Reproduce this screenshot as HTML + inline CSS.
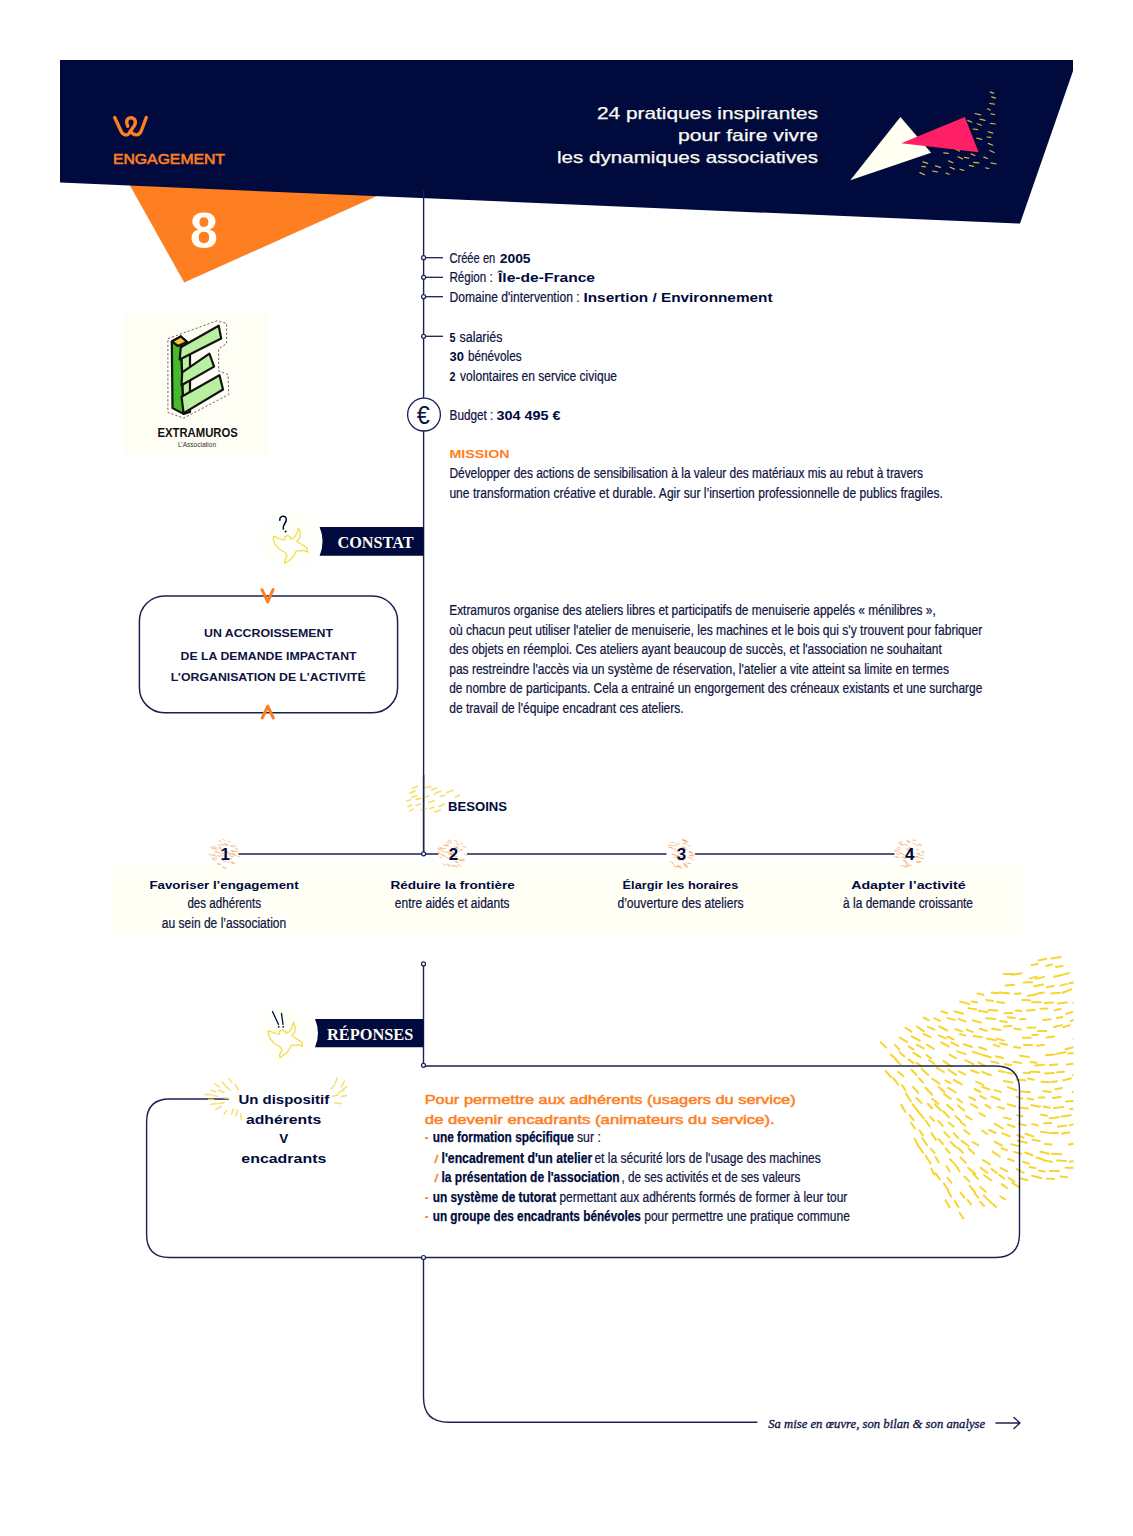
<!DOCTYPE html>
<html><head><meta charset="utf-8"><title>Extramuros</title>
<style>html,body{margin:0;padding:0;background:#fff;width:1133px;height:1536px;overflow:hidden}svg{display:block}</style>
</head><body>
<svg width="1133" height="1536" viewBox="0 0 1133 1536">
<polygon points="126.9,180 390.3,190 184.2,282.5" fill="#fe7e22"/>
<polygon points="60,60 1073,60 1073,71 1020,223.6 60,182.6" fill="#000a3c"/>
<g fill="none" stroke="#fe7e22" stroke-width="3.4" stroke-linecap="round" stroke-linejoin="round"><path d="M114.7,117.5 L121.5,132 Q123.3,135.2 126.3,134.9 Q128.6,134.6 130.4,131.2 L134.6,125.2 Q136.3,121.5 134.3,119.2 Q131.8,116.8 128.7,118.3 Q126,119.9 126.9,123.6 L127.8,126.3"/><path d="M130.4,131.2 Q132.8,135 136.3,134.9 Q139.3,134.8 141,131.5 L146.3,117.5"/></g>
<text x="113.0" y="164.0" font-family="Liberation Sans" font-size="14" font-weight="normal" font-style="normal" fill="#fe7e22" text-anchor="start" textLength="112.0" lengthAdjust="spacingAndGlyphs" stroke="#fe7e22" stroke-width="0.6">ENGAGEMENT</text>
<text x="204.0" y="248.0" font-family="Liberation Sans" font-size="50" font-weight="bold" font-style="normal" fill="#fffdf5" text-anchor="middle">8</text>
<text x="818.0" y="118.5" font-family="Liberation Sans" font-size="16.5" font-weight="normal" font-style="normal" fill="#fbfaf0" text-anchor="end" textLength="221.0" lengthAdjust="spacingAndGlyphs" stroke="#fbfaf0" stroke-width="0.25">24 pratiques inspirantes</text>
<text x="818.0" y="140.7" font-family="Liberation Sans" font-size="16.5" font-weight="normal" font-style="normal" fill="#fbfaf0" text-anchor="end" textLength="140.0" lengthAdjust="spacingAndGlyphs" stroke="#fbfaf0" stroke-width="0.25">pour faire vivre</text>
<text x="818.0" y="163.0" font-family="Liberation Sans" font-size="16.5" font-weight="normal" font-style="normal" fill="#fbfaf0" text-anchor="end" textLength="261.0" lengthAdjust="spacingAndGlyphs" stroke="#fbfaf0" stroke-width="0.25">les dynamiques associatives</text>
<g><line x1="990.3" y1="92.2" x2="993.7" y2="93.2" stroke="#f4d24a" stroke-width="1.2" stroke-linecap="round" opacity="0.85"/><line x1="991.7" y1="96.9" x2="995.5" y2="98.1" stroke="#f4d24a" stroke-width="1.2" stroke-linecap="round" opacity="0.85"/><line x1="989.7" y1="103.5" x2="994.3" y2="104.1" stroke="#f4d24a" stroke-width="1.2" stroke-linecap="round" opacity="0.85"/><line x1="987.5" y1="108.8" x2="990.3" y2="110.0" stroke="#f4d24a" stroke-width="1.2" stroke-linecap="round" opacity="0.85"/><line x1="991.1" y1="113.9" x2="994.7" y2="114.5" stroke="#f4d24a" stroke-width="1.2" stroke-linecap="round" opacity="0.85"/><line x1="975.1" y1="113.5" x2="980.5" y2="114.9" stroke="#f4d24a" stroke-width="1.2" stroke-linecap="round" opacity="0.85"/><line x1="980.0" y1="119.1" x2="985.0" y2="120.3" stroke="#f4d24a" stroke-width="1.2" stroke-linecap="round" opacity="0.85"/><line x1="990.6" y1="123.4" x2="995.2" y2="124.0" stroke="#f4d24a" stroke-width="1.2" stroke-linecap="round" opacity="0.85"/><line x1="967.7" y1="120.4" x2="971.9" y2="122.2" stroke="#f4d24a" stroke-width="1.2" stroke-linecap="round" opacity="0.85"/><line x1="977.3" y1="123.8" x2="981.3" y2="125.2" stroke="#f4d24a" stroke-width="1.2" stroke-linecap="round" opacity="0.85"/><line x1="973.1" y1="129.0" x2="977.7" y2="129.6" stroke="#f4d24a" stroke-width="1.2" stroke-linecap="round" opacity="0.85"/><line x1="988.2" y1="131.7" x2="992.8" y2="133.1" stroke="#f4d24a" stroke-width="1.2" stroke-linecap="round" opacity="0.85"/><line x1="987.0" y1="137.0" x2="990.8" y2="137.4" stroke="#f4d24a" stroke-width="1.2" stroke-linecap="round" opacity="0.85"/><line x1="976.8" y1="138.2" x2="981.8" y2="139.4" stroke="#f4d24a" stroke-width="1.2" stroke-linecap="round" opacity="0.85"/><line x1="988.3" y1="143.4" x2="992.7" y2="145.2" stroke="#f4d24a" stroke-width="1.2" stroke-linecap="round" opacity="0.85"/><line x1="989.8" y1="150.5" x2="994.2" y2="152.5" stroke="#f4d24a" stroke-width="1.2" stroke-linecap="round" opacity="0.85"/><line x1="983.8" y1="157.1" x2="987.6" y2="158.5" stroke="#f4d24a" stroke-width="1.2" stroke-linecap="round" opacity="0.85"/><line x1="971.1" y1="153.9" x2="974.9" y2="155.5" stroke="#f4d24a" stroke-width="1.2" stroke-linecap="round" opacity="0.85"/><line x1="973.6" y1="162.3" x2="978.8" y2="162.9" stroke="#f4d24a" stroke-width="1.2" stroke-linecap="round" opacity="0.85"/><line x1="985.7" y1="167.9" x2="988.9" y2="168.5" stroke="#f4d24a" stroke-width="1.2" stroke-linecap="round" opacity="0.85"/><line x1="991.0" y1="162.8" x2="996.2" y2="164.0" stroke="#f4d24a" stroke-width="1.2" stroke-linecap="round" opacity="0.85"/><line x1="964.4" y1="157.4" x2="968.8" y2="158.2" stroke="#f4d24a" stroke-width="1.2" stroke-linecap="round" opacity="0.85"/><line x1="969.3" y1="165.3" x2="973.5" y2="166.3" stroke="#f4d24a" stroke-width="1.2" stroke-linecap="round" opacity="0.85"/><line x1="960.0" y1="169.2" x2="963.8" y2="170.4" stroke="#f4d24a" stroke-width="1.2" stroke-linecap="round" opacity="0.85"/><line x1="948.6" y1="160.9" x2="952.8" y2="162.7" stroke="#f4d24a" stroke-width="1.2" stroke-linecap="round" opacity="0.85"/><line x1="950.1" y1="167.3" x2="954.5" y2="169.1" stroke="#f4d24a" stroke-width="1.2" stroke-linecap="round" opacity="0.85"/><line x1="958.0" y1="156.7" x2="962.6" y2="158.9" stroke="#f4d24a" stroke-width="1.2" stroke-linecap="round" opacity="0.85"/><line x1="943.7" y1="152.8" x2="948.3" y2="153.4" stroke="#f4d24a" stroke-width="1.2" stroke-linecap="round" opacity="0.85"/><line x1="954.8" y1="148.8" x2="959.4" y2="151.0" stroke="#f4d24a" stroke-width="1.2" stroke-linecap="round" opacity="0.85"/><line x1="935.5" y1="165.9" x2="940.5" y2="167.3" stroke="#f4d24a" stroke-width="1.2" stroke-linecap="round" opacity="0.85"/><line x1="932.5" y1="171.0" x2="937.3" y2="171.8" stroke="#f4d24a" stroke-width="1.2" stroke-linecap="round" opacity="0.85"/><line x1="922.9" y1="161.9" x2="927.7" y2="163.3" stroke="#f4d24a" stroke-width="1.2" stroke-linecap="round" opacity="0.85"/><line x1="921.9" y1="166.4" x2="925.5" y2="166.8" stroke="#f4d24a" stroke-width="1.2" stroke-linecap="round" opacity="0.85"/><line x1="919.9" y1="172.6" x2="924.5" y2="174.8" stroke="#f4d24a" stroke-width="1.2" stroke-linecap="round" opacity="0.85"/><line x1="946.1" y1="173.1" x2="949.1" y2="174.3" stroke="#f4d24a" stroke-width="1.2" stroke-linecap="round" opacity="0.85"/></g>
<polygon points="900.4,116.9 850.3,180.2 931.1,152.8" fill="#fffff2"/>
<polygon points="964.8,116.9 901.2,143.3 978.6,152.3" fill="#ff1f66"/>
<line x1="423.6" y1="190" x2="423.6" y2="853.8" stroke="#1b2052" stroke-width="1.4"/>
<line x1="423.6" y1="257.7" x2="443" y2="257.7" stroke="#1b2052" stroke-width="1.3"/>
<circle cx="423.6" cy="257.7" r="2.0" fill="#fff" stroke="#1b2052" stroke-width="1.2"/>
<line x1="423.6" y1="277.3" x2="443" y2="277.3" stroke="#1b2052" stroke-width="1.3"/>
<circle cx="423.6" cy="277.3" r="2.0" fill="#fff" stroke="#1b2052" stroke-width="1.2"/>
<line x1="423.6" y1="296.7" x2="443" y2="296.7" stroke="#1b2052" stroke-width="1.3"/>
<circle cx="423.6" cy="296.7" r="2.0" fill="#fff" stroke="#1b2052" stroke-width="1.2"/>
<line x1="423.6" y1="336.3" x2="443" y2="336.3" stroke="#1b2052" stroke-width="1.3"/>
<circle cx="423.6" cy="336.3" r="2.0" fill="#fff" stroke="#1b2052" stroke-width="1.2"/>
<circle cx="424" cy="414.6" r="16.4" fill="#fff" stroke="#1b2052" stroke-width="1.3"/>
<text x="423.2" y="424.3" font-family="Liberation Sans" font-size="26" font-weight="normal" font-style="normal" fill="#0e1342" text-anchor="middle" textLength="13" lengthAdjust="spacingAndGlyphs">&#8364;</text>
<text x="449.4" y="263.0" font-family="Liberation Sans" font-size="14" font-weight="normal" font-style="normal" fill="#0e1342" text-anchor="start" textLength="45.9" lengthAdjust="spacingAndGlyphs" stroke="#0e1342" stroke-width="0.22">Créée en</text>
<text x="499.7" y="263.0" font-family="Liberation Sans" font-size="12" font-weight="bold" font-style="normal" fill="#000a3c" text-anchor="start" textLength="30.9" lengthAdjust="spacingAndGlyphs">2005</text>
<text x="449.4" y="282.4" font-family="Liberation Sans" font-size="14" font-weight="normal" font-style="normal" fill="#0e1342" text-anchor="start" textLength="43.3" lengthAdjust="spacingAndGlyphs" stroke="#0e1342" stroke-width="0.22">Région :</text>
<text x="498.0" y="282.4" font-family="Liberation Sans" font-size="12" font-weight="bold" font-style="normal" fill="#000a3c" text-anchor="start" textLength="97.0" lengthAdjust="spacingAndGlyphs">Île-de-France</text>
<text x="449.6" y="301.8" font-family="Liberation Sans" font-size="14" font-weight="normal" font-style="normal" fill="#0e1342" text-anchor="start" textLength="130.0" lengthAdjust="spacingAndGlyphs" stroke="#0e1342" stroke-width="0.22">Domaine d'intervention :</text>
<text x="583.5" y="301.8" font-family="Liberation Sans" font-size="12" font-weight="bold" font-style="normal" fill="#000a3c" text-anchor="start" textLength="189.0" lengthAdjust="spacingAndGlyphs">Insertion / Environnement</text>
<text x="449.6" y="341.6" font-family="Liberation Sans" font-size="12" font-weight="bold" font-style="normal" fill="#000a3c" text-anchor="start" textLength="6.0" lengthAdjust="spacingAndGlyphs">5</text>
<text x="459.5" y="341.6" font-family="Liberation Sans" font-size="14" font-weight="normal" font-style="normal" fill="#0e1342" text-anchor="start" textLength="42.9" lengthAdjust="spacingAndGlyphs" stroke="#0e1342" stroke-width="0.22">salariés</text>
<text x="449.6" y="361.0" font-family="Liberation Sans" font-size="12" font-weight="bold" font-style="normal" fill="#000a3c" text-anchor="start" textLength="14.4" lengthAdjust="spacingAndGlyphs">30</text>
<text x="467.9" y="361.0" font-family="Liberation Sans" font-size="14" font-weight="normal" font-style="normal" fill="#0e1342" text-anchor="start" textLength="53.7" lengthAdjust="spacingAndGlyphs" stroke="#0e1342" stroke-width="0.22">bénévoles</text>
<text x="449.6" y="381.2" font-family="Liberation Sans" font-size="12" font-weight="bold" font-style="normal" fill="#000a3c" text-anchor="start" textLength="6.0" lengthAdjust="spacingAndGlyphs">2</text>
<text x="460.1" y="381.2" font-family="Liberation Sans" font-size="14" font-weight="normal" font-style="normal" fill="#0e1342" text-anchor="start" textLength="156.9" lengthAdjust="spacingAndGlyphs" stroke="#0e1342" stroke-width="0.22">volontaires en service civique</text>
<text x="449.6" y="420.0" font-family="Liberation Sans" font-size="14" font-weight="normal" font-style="normal" fill="#0e1342" text-anchor="start" textLength="43.8" lengthAdjust="spacingAndGlyphs" stroke="#0e1342" stroke-width="0.22">Budget :</text>
<text x="496.4" y="420.0" font-family="Liberation Sans" font-size="12" font-weight="bold" font-style="normal" fill="#000a3c" text-anchor="start" textLength="64.2" lengthAdjust="spacingAndGlyphs">304 495 €</text>
<text x="449.4" y="458.2" font-family="Liberation Sans" font-size="11.5" font-weight="bold" font-style="normal" fill="#fe7e22" text-anchor="start" textLength="60.3" lengthAdjust="spacingAndGlyphs">MISSION</text>
<text x="449.4" y="478.0" font-family="Liberation Sans" font-size="14" font-weight="normal" font-style="normal" fill="#0e1342" text-anchor="start" textLength="473.6" lengthAdjust="spacingAndGlyphs" stroke="#0e1342" stroke-width="0.22">Développer des actions de sensibilisation à la valeur des matériaux mis au rebut à travers</text>
<text x="449.4" y="497.7" font-family="Liberation Sans" font-size="14" font-weight="normal" font-style="normal" fill="#0e1342" text-anchor="start" textLength="493.4" lengthAdjust="spacingAndGlyphs" stroke="#0e1342" stroke-width="0.22">une transformation créative et durable. Agir sur l’insertion professionnelle de publics fragiles.</text>
<rect x="125" y="312" width="143" height="142.6" fill="#fffef4"/>
<polygon points="167.9,338.6 217.3,320.7 226.6,323.6 226.6,343.7 218.7,348.7 218.7,370.9 228,374.5 228.8,394.5 183.6,418.2 167.9,412.4" fill="none" stroke="#555" stroke-width="0.9" stroke-dasharray="2.2,2"/>
<g stroke="#111" stroke-width="2.2" stroke-linejoin="round"><polygon points="171.8,341.5 180.8,336.5 183.6,413.9 172.5,408.1" fill="#44bb2a"/><polygon points="180.8,336.5 187,341.9 190,347 190,412 183.6,413.9" fill="#b8f0a0"/><polygon points="171.8,341.5 180.8,336.5 186.9,341.9 178,346" fill="#f7c731"/><polygon points="180.8,347.2 218.7,325.7 221.2,338.6 179.7,359.4" fill="#b8f0a0"/><polygon points="182.2,372.3 209.4,353.7 214.1,366.6 181.5,385.2" fill="#b8f0a0"/><polygon points="181.5,396.7 219.5,375.2 223,389.5 183.6,413.1" fill="#b8f0a0"/></g>
<text x="157.5" y="437.0" font-family="Liberation Sans" font-size="12.5" font-weight="bold" font-style="normal" fill="#111" text-anchor="start" textLength="80.3" lengthAdjust="spacingAndGlyphs">EXTRAMUROS</text>
<text x="197.0" y="446.5" font-family="Liberation Sans" font-size="7" font-weight="normal" font-style="normal" fill="#333" text-anchor="middle" textLength="38.0" lengthAdjust="spacingAndGlyphs">L’Association</text>
<circle cx="289" cy="541" r="30" fill="#fffffa"/>
<path d="M273.4,536.2 L279.0,538.6 L284.5,540.2 L285.0,536.8 L287.7,535.5 L290.3,536.8 L290.8,539.4 L295.0,536.8 L297.4,532.0 L298.5,527.8 L300.4,533.0 L299.8,537.8 L296.7,541.5 L303.0,545.3 L307.3,548.4 L307.5,552.1 L304.0,550.5 L296.1,551.1 L295.0,553.7 L292.4,558.0 L285.0,563.3 L284.5,561.1 L287.1,555.8 L285.5,552.7 L279.2,549.0 L275.0,544.2 L273.4,539.4Z" fill="#fff" stroke="#f2de48" stroke-width="1.3" stroke-linejoin="round"/>
<path d="M279.8,520.2 C279.6,515.6 286.2,514.6 286.3,519.6 C286.4,523.2 282.2,524.6 283.4,529" fill="none" stroke="#000a3c" stroke-width="1.6" stroke-linecap="round"/>
<circle cx="285.6" cy="531.6" r="1" fill="#000a3c"/>
<path d="M319.6,527 L423.6,527 L423.6,555.7 L319.6,555.7 Q325.6,541.35 319.6,527 Z" fill="#000a3c"/>
<text x="337.5" y="548.0" font-family="Liberation Serif" font-size="16.5" font-weight="bold" font-style="normal" fill="#fffdf2" text-anchor="start" textLength="76.0" lengthAdjust="spacingAndGlyphs">CONSTAT</text>
<rect x="139.4" y="595.9" width="258.2" height="116.8" rx="25" ry="25" fill="#fff" stroke="#1b2052" stroke-width="1.5"/>
<path d="M262,589.7 L267.7,601.9 L273.1,589.5" fill="none" stroke="#fe7e22" stroke-width="3" stroke-linecap="round" stroke-linejoin="round"/>
<path d="M262.2,718 L267.8,706.2 L273.3,718" fill="none" stroke="#fe7e22" stroke-width="3" stroke-linecap="round" stroke-linejoin="round"/>
<text x="268.5" y="637.3" font-family="Liberation Sans" font-size="11.5" font-weight="bold" font-style="normal" fill="#0e1342" text-anchor="middle" textLength="129.0" lengthAdjust="spacingAndGlyphs">UN ACCROISSEMENT</text>
<text x="268.6" y="659.5" font-family="Liberation Sans" font-size="11.5" font-weight="bold" font-style="normal" fill="#0e1342" text-anchor="middle" textLength="176.0" lengthAdjust="spacingAndGlyphs">DE LA DEMANDE IMPACTANT</text>
<text x="268.3" y="681.0" font-family="Liberation Sans" font-size="11.5" font-weight="bold" font-style="normal" fill="#0e1342" text-anchor="middle" textLength="195.0" lengthAdjust="spacingAndGlyphs">L’ORGANISATION DE L’ACTIVITÉ</text>
<text x="449.2" y="615.1" font-family="Liberation Sans" font-size="14" font-weight="normal" font-style="normal" fill="#0e1342" text-anchor="start" textLength="486.6" lengthAdjust="spacingAndGlyphs" stroke="#0e1342" stroke-width="0.22">Extramuros organise des ateliers libres et participatifs de menuiserie appelés « ménilibres »,</text>
<text x="449.2" y="634.7" font-family="Liberation Sans" font-size="14" font-weight="normal" font-style="normal" fill="#0e1342" text-anchor="start" textLength="533.1" lengthAdjust="spacingAndGlyphs" stroke="#0e1342" stroke-width="0.22">où chacun peut utiliser l'atelier de menuiserie, les machines et le bois qui s'y trouvent pour fabriquer</text>
<text x="449.2" y="654.2" font-family="Liberation Sans" font-size="14" font-weight="normal" font-style="normal" fill="#0e1342" text-anchor="start" textLength="492.5" lengthAdjust="spacingAndGlyphs" stroke="#0e1342" stroke-width="0.22">des objets en réemploi. Ces ateliers ayant beaucoup de succès, et l'association ne souhaitant</text>
<text x="449.2" y="673.7" font-family="Liberation Sans" font-size="14" font-weight="normal" font-style="normal" fill="#0e1342" text-anchor="start" textLength="499.8" lengthAdjust="spacingAndGlyphs" stroke="#0e1342" stroke-width="0.22">pas restreindre l'accès via un système de réservation, l'atelier a vite atteint sa limite en termes</text>
<text x="449.2" y="693.2" font-family="Liberation Sans" font-size="14" font-weight="normal" font-style="normal" fill="#0e1342" text-anchor="start" textLength="533.1" lengthAdjust="spacingAndGlyphs" stroke="#0e1342" stroke-width="0.22">de nombre de participants. Cela a entrainé un engorgement des créneaux existants et une surcharge</text>
<text x="449.2" y="712.8" font-family="Liberation Sans" font-size="14" font-weight="normal" font-style="normal" fill="#0e1342" text-anchor="start" textLength="234.5" lengthAdjust="spacingAndGlyphs" stroke="#0e1342" stroke-width="0.22">de travail de l'équipe encadrant ces ateliers.</text>
<g><line x1="412.8" y1="788.2" x2="417.4" y2="786.2" stroke="#f6dc5a" stroke-width="1.6" stroke-linecap="round" opacity="0.9"/><line x1="409.8" y1="793.2" x2="415.2" y2="790.8" stroke="#f6dc5a" stroke-width="1.6" stroke-linecap="round" opacity="0.9"/><line x1="411.4" y1="797.6" x2="416.6" y2="795.8" stroke="#f6dc5a" stroke-width="1.6" stroke-linecap="round" opacity="0.9"/><line x1="406.8" y1="801.0" x2="410.8" y2="799.8" stroke="#f6dc5a" stroke-width="1.6" stroke-linecap="round" opacity="0.9"/><line x1="407.8" y1="806.4" x2="411.8" y2="805.0" stroke="#f6dc5a" stroke-width="1.6" stroke-linecap="round" opacity="0.9"/><line x1="409.5" y1="810.8" x2="413.3" y2="809.2" stroke="#f6dc5a" stroke-width="1.6" stroke-linecap="round" opacity="0.9"/><line x1="416.2" y1="799.4" x2="421.4" y2="798.2" stroke="#f6dc5a" stroke-width="1.6" stroke-linecap="round" opacity="0.9"/><line x1="416.3" y1="805.5" x2="420.3" y2="803.9" stroke="#f6dc5a" stroke-width="1.6" stroke-linecap="round" opacity="0.9"/><line x1="424.9" y1="787.8" x2="430.7" y2="786.6" stroke="#f6dc5a" stroke-width="1.6" stroke-linecap="round" opacity="0.9"/><line x1="431.5" y1="789.7" x2="436.9" y2="787.9" stroke="#f6dc5a" stroke-width="1.6" stroke-linecap="round" opacity="0.9"/><line x1="434.2" y1="793.9" x2="440.6" y2="791.1" stroke="#f6dc5a" stroke-width="1.6" stroke-linecap="round" opacity="0.9"/><line x1="446.9" y1="792.6" x2="453.1" y2="790.2" stroke="#f6dc5a" stroke-width="1.6" stroke-linecap="round" opacity="0.9"/><line x1="455.5" y1="797.1" x2="459.5" y2="795.3" stroke="#f6dc5a" stroke-width="1.6" stroke-linecap="round" opacity="0.9"/><line x1="440.3" y1="796.2" x2="445.1" y2="795.2" stroke="#f6dc5a" stroke-width="1.6" stroke-linecap="round" opacity="0.9"/><line x1="424.6" y1="797.3" x2="429.0" y2="796.1" stroke="#f6dc5a" stroke-width="1.6" stroke-linecap="round" opacity="0.9"/><line x1="428.7" y1="802.5" x2="434.3" y2="800.5" stroke="#f6dc5a" stroke-width="1.6" stroke-linecap="round" opacity="0.9"/><line x1="439.0" y1="806.4" x2="444.2" y2="804.0" stroke="#f6dc5a" stroke-width="1.6" stroke-linecap="round" opacity="0.9"/><line x1="430.1" y1="808.6" x2="433.9" y2="807.0" stroke="#f6dc5a" stroke-width="1.6" stroke-linecap="round" opacity="0.9"/><line x1="434.5" y1="812.0" x2="440.3" y2="810.0" stroke="#f6dc5a" stroke-width="1.6" stroke-linecap="round" opacity="0.9"/><line x1="421.2" y1="810.1" x2="426.0" y2="808.7" stroke="#f6dc5a" stroke-width="1.6" stroke-linecap="round" opacity="0.9"/></g>
<line x1="423.6" y1="775" x2="423.6" y2="853.8" stroke="#1b2052" stroke-width="1.4"/>
<text x="448.0" y="810.5" font-family="Liberation Sans" font-size="12" font-weight="bold" font-style="normal" fill="#000a3c" text-anchor="start" textLength="59.0" lengthAdjust="spacingAndGlyphs">BESOINS</text>
<rect x="111.8" y="865.8" width="910.7" height="65.9" fill="#fffff6"/>
<line x1="238.5" y1="854" x2="438.5" y2="854" stroke="#1b2052" stroke-width="1.4"/>
<line x1="467" y1="854" x2="666.5" y2="854" stroke="#1b2052" stroke-width="1.4"/>
<line x1="695" y1="854" x2="894.5" y2="854" stroke="#1b2052" stroke-width="1.4"/>
<circle cx="423.6" cy="853.8" r="2.0" fill="#fff" stroke="#1b2052" stroke-width="1.2"/>
<g><line x1="230.7" y1="846.0" x2="233.4" y2="846.8" stroke="#f0a060" stroke-width="1.0" stroke-linecap="round" opacity="0.6"/><line x1="227.7" y1="861.8" x2="229.9" y2="862.0" stroke="#f0a060" stroke-width="1.0" stroke-linecap="round" opacity="0.6"/><line x1="232.5" y1="851.4" x2="235.7" y2="851.7" stroke="#f0a060" stroke-width="1.0" stroke-linecap="round" opacity="0.6"/><line x1="221.8" y1="859.4" x2="223.9" y2="860.5" stroke="#f0a060" stroke-width="1.0" stroke-linecap="round" opacity="0.6"/><line x1="208.9" y1="854.3" x2="212.3" y2="855.1" stroke="#f0a060" stroke-width="1.0" stroke-linecap="round" opacity="0.6"/><line x1="215.2" y1="851.1" x2="217.2" y2="851.4" stroke="#f0a060" stroke-width="1.0" stroke-linecap="round" opacity="0.6"/><line x1="221.4" y1="853.2" x2="223.8" y2="853.6" stroke="#f0a060" stroke-width="1.0" stroke-linecap="round" opacity="0.6"/><line x1="215.0" y1="852.2" x2="217.5" y2="852.4" stroke="#f0a060" stroke-width="1.0" stroke-linecap="round" opacity="0.6"/><line x1="232.7" y1="854.9" x2="235.7" y2="855.4" stroke="#f0a060" stroke-width="1.0" stroke-linecap="round" opacity="0.6"/><line x1="212.0" y1="848.0" x2="214.9" y2="849.3" stroke="#f0a060" stroke-width="1.0" stroke-linecap="round" opacity="0.6"/><line x1="235.5" y1="850.6" x2="238.6" y2="851.9" stroke="#f0a060" stroke-width="1.0" stroke-linecap="round" opacity="0.6"/><line x1="217.2" y1="855.3" x2="220.2" y2="856.8" stroke="#f0a060" stroke-width="1.0" stroke-linecap="round" opacity="0.6"/><line x1="223.5" y1="855.9" x2="225.6" y2="856.3" stroke="#f0a060" stroke-width="1.0" stroke-linecap="round" opacity="0.6"/><line x1="231.9" y1="850.6" x2="234.1" y2="851.4" stroke="#f0a060" stroke-width="1.0" stroke-linecap="round" opacity="0.6"/><line x1="229.0" y1="858.2" x2="231.5" y2="858.9" stroke="#f0a060" stroke-width="1.0" stroke-linecap="round" opacity="0.6"/><line x1="223.3" y1="861.2" x2="226.0" y2="861.9" stroke="#f0a060" stroke-width="1.0" stroke-linecap="round" opacity="0.6"/><line x1="223.1" y1="839.5" x2="225.1" y2="840.3" stroke="#f0a060" stroke-width="1.0" stroke-linecap="round" opacity="0.6"/><line x1="237.1" y1="856.0" x2="239.7" y2="856.4" stroke="#f0a060" stroke-width="1.0" stroke-linecap="round" opacity="0.6"/><line x1="222.9" y1="867.0" x2="226.0" y2="868.0" stroke="#f0a060" stroke-width="1.0" stroke-linecap="round" opacity="0.6"/><line x1="233.6" y1="845.1" x2="236.1" y2="846.4" stroke="#f0a060" stroke-width="1.0" stroke-linecap="round" opacity="0.6"/><line x1="225.5" y1="851.9" x2="227.8" y2="852.7" stroke="#f0a060" stroke-width="1.0" stroke-linecap="round" opacity="0.6"/><line x1="231.1" y1="862.1" x2="234.2" y2="863.5" stroke="#f0a060" stroke-width="1.0" stroke-linecap="round" opacity="0.6"/><line x1="232.0" y1="853.7" x2="234.8" y2="854.4" stroke="#f0a060" stroke-width="1.0" stroke-linecap="round" opacity="0.6"/><line x1="225.1" y1="844.4" x2="227.8" y2="845.2" stroke="#f0a060" stroke-width="1.0" stroke-linecap="round" opacity="0.6"/><line x1="218.9" y1="848.5" x2="221.6" y2="849.5" stroke="#f0a060" stroke-width="1.0" stroke-linecap="round" opacity="0.6"/><line x1="226.7" y1="852.1" x2="228.7" y2="852.5" stroke="#f0a060" stroke-width="1.0" stroke-linecap="round" opacity="0.6"/><line x1="213.5" y1="855.2" x2="216.6" y2="856.7" stroke="#f0a060" stroke-width="1.0" stroke-linecap="round" opacity="0.6"/><line x1="231.9" y1="862.1" x2="234.1" y2="863.2" stroke="#f0a060" stroke-width="1.0" stroke-linecap="round" opacity="0.6"/><line x1="228.4" y1="841.3" x2="230.4" y2="841.5" stroke="#f0a060" stroke-width="1.0" stroke-linecap="round" opacity="0.6"/><line x1="230.8" y1="845.9" x2="232.8" y2="846.6" stroke="#f0a060" stroke-width="1.0" stroke-linecap="round" opacity="0.6"/><line x1="218.8" y1="840.7" x2="221.0" y2="841.4" stroke="#f0a060" stroke-width="1.0" stroke-linecap="round" opacity="0.6"/><line x1="213.3" y1="846.5" x2="216.3" y2="847.4" stroke="#f0a060" stroke-width="1.0" stroke-linecap="round" opacity="0.6"/><line x1="218.3" y1="852.5" x2="220.2" y2="853.0" stroke="#f0a060" stroke-width="1.0" stroke-linecap="round" opacity="0.6"/><line x1="221.1" y1="844.0" x2="223.1" y2="845.0" stroke="#f0a060" stroke-width="1.0" stroke-linecap="round" opacity="0.6"/><line x1="223.4" y1="844.4" x2="226.0" y2="845.7" stroke="#f0a060" stroke-width="1.0" stroke-linecap="round" opacity="0.6"/><line x1="213.1" y1="859.4" x2="215.2" y2="860.3" stroke="#f0a060" stroke-width="1.0" stroke-linecap="round" opacity="0.6"/><line x1="228.5" y1="854.2" x2="230.6" y2="855.4" stroke="#f0a060" stroke-width="1.0" stroke-linecap="round" opacity="0.6"/><line x1="231.9" y1="853.6" x2="234.1" y2="854.4" stroke="#f0a060" stroke-width="1.0" stroke-linecap="round" opacity="0.6"/><line x1="220.2" y1="855.3" x2="222.5" y2="856.1" stroke="#f0a060" stroke-width="1.0" stroke-linecap="round" opacity="0.6"/><line x1="210.0" y1="846.9" x2="213.2" y2="848.5" stroke="#f0a060" stroke-width="1.0" stroke-linecap="round" opacity="0.6"/><line x1="217.7" y1="863.3" x2="219.9" y2="864.5" stroke="#f0a060" stroke-width="1.0" stroke-linecap="round" opacity="0.6"/><line x1="230.3" y1="851.0" x2="232.7" y2="851.2" stroke="#f0a060" stroke-width="1.0" stroke-linecap="round" opacity="0.6"/><line x1="225.0" y1="843.1" x2="227.9" y2="844.8" stroke="#f0a060" stroke-width="1.0" stroke-linecap="round" opacity="0.6"/><line x1="229.1" y1="853.4" x2="231.6" y2="854.1" stroke="#f0a060" stroke-width="1.0" stroke-linecap="round" opacity="0.6"/><line x1="214.5" y1="858.3" x2="217.2" y2="858.8" stroke="#f0a060" stroke-width="1.0" stroke-linecap="round" opacity="0.6"/><line x1="211.7" y1="857.9" x2="214.1" y2="858.7" stroke="#f0a060" stroke-width="1.0" stroke-linecap="round" opacity="0.6"/><line x1="217.6" y1="864.1" x2="221.0" y2="864.4" stroke="#f0a060" stroke-width="1.0" stroke-linecap="round" opacity="0.6"/><line x1="214.1" y1="847.8" x2="217.4" y2="849.2" stroke="#f0a060" stroke-width="1.0" stroke-linecap="round" opacity="0.6"/><line x1="218.3" y1="844.5" x2="221.1" y2="845.9" stroke="#f0a060" stroke-width="1.0" stroke-linecap="round" opacity="0.6"/><line x1="235.4" y1="848.3" x2="238.5" y2="849.6" stroke="#f0a060" stroke-width="1.0" stroke-linecap="round" opacity="0.6"/><line x1="222.9" y1="867.1" x2="225.0" y2="868.0" stroke="#f0a060" stroke-width="1.0" stroke-linecap="round" opacity="0.6"/><line x1="230.3" y1="856.0" x2="233.5" y2="856.8" stroke="#f0a060" stroke-width="1.0" stroke-linecap="round" opacity="0.6"/><line x1="218.2" y1="846.9" x2="221.4" y2="848.0" stroke="#f0a060" stroke-width="1.0" stroke-linecap="round" opacity="0.6"/><line x1="212.7" y1="854.9" x2="214.9" y2="855.1" stroke="#f0a060" stroke-width="1.0" stroke-linecap="round" opacity="0.6"/><line x1="231.6" y1="862.6" x2="233.9" y2="863.5" stroke="#f0a060" stroke-width="1.0" stroke-linecap="round" opacity="0.6"/></g>
<text x="225.2" y="859.7" font-family="Liberation Sans" font-size="17" font-weight="bold" font-style="normal" fill="#000a3c" text-anchor="middle">1</text>
<g><line x1="460.8" y1="860.0" x2="463.8" y2="860.7" stroke="#f0a060" stroke-width="1.0" stroke-linecap="round" opacity="0.6"/><line x1="454.2" y1="856.4" x2="457.1" y2="856.8" stroke="#f0a060" stroke-width="1.0" stroke-linecap="round" opacity="0.6"/><line x1="449.2" y1="849.6" x2="452.0" y2="851.2" stroke="#f0a060" stroke-width="1.0" stroke-linecap="round" opacity="0.6"/><line x1="464.3" y1="854.5" x2="467.0" y2="855.1" stroke="#f0a060" stroke-width="1.0" stroke-linecap="round" opacity="0.6"/><line x1="450.4" y1="847.6" x2="452.7" y2="848.8" stroke="#f0a060" stroke-width="1.0" stroke-linecap="round" opacity="0.6"/><line x1="452.2" y1="855.1" x2="454.5" y2="855.4" stroke="#f0a060" stroke-width="1.0" stroke-linecap="round" opacity="0.6"/><line x1="446.3" y1="842.3" x2="448.7" y2="843.7" stroke="#f0a060" stroke-width="1.0" stroke-linecap="round" opacity="0.6"/><line x1="456.1" y1="843.6" x2="459.2" y2="845.0" stroke="#f0a060" stroke-width="1.0" stroke-linecap="round" opacity="0.6"/><line x1="457.9" y1="864.6" x2="460.9" y2="866.0" stroke="#f0a060" stroke-width="1.0" stroke-linecap="round" opacity="0.6"/><line x1="458.7" y1="859.3" x2="461.3" y2="860.2" stroke="#f0a060" stroke-width="1.0" stroke-linecap="round" opacity="0.6"/><line x1="451.0" y1="865.2" x2="453.6" y2="866.4" stroke="#f0a060" stroke-width="1.0" stroke-linecap="round" opacity="0.6"/><line x1="446.7" y1="864.1" x2="450.0" y2="865.1" stroke="#f0a060" stroke-width="1.0" stroke-linecap="round" opacity="0.6"/><line x1="453.1" y1="865.2" x2="456.1" y2="866.2" stroke="#f0a060" stroke-width="1.0" stroke-linecap="round" opacity="0.6"/><line x1="443.0" y1="848.2" x2="446.1" y2="848.7" stroke="#f0a060" stroke-width="1.0" stroke-linecap="round" opacity="0.6"/><line x1="462.7" y1="846.4" x2="466.1" y2="847.2" stroke="#f0a060" stroke-width="1.0" stroke-linecap="round" opacity="0.6"/><line x1="451.3" y1="853.5" x2="454.2" y2="854.5" stroke="#f0a060" stroke-width="1.0" stroke-linecap="round" opacity="0.6"/><line x1="445.9" y1="844.4" x2="448.4" y2="845.7" stroke="#f0a060" stroke-width="1.0" stroke-linecap="round" opacity="0.6"/><line x1="454.7" y1="840.5" x2="457.7" y2="841.8" stroke="#f0a060" stroke-width="1.0" stroke-linecap="round" opacity="0.6"/><line x1="456.0" y1="846.4" x2="458.1" y2="847.5" stroke="#f0a060" stroke-width="1.0" stroke-linecap="round" opacity="0.6"/><line x1="439.5" y1="853.8" x2="442.8" y2="854.5" stroke="#f0a060" stroke-width="1.0" stroke-linecap="round" opacity="0.6"/><line x1="443.0" y1="864.0" x2="445.4" y2="865.1" stroke="#f0a060" stroke-width="1.0" stroke-linecap="round" opacity="0.6"/><line x1="438.0" y1="849.1" x2="440.1" y2="849.9" stroke="#f0a060" stroke-width="1.0" stroke-linecap="round" opacity="0.6"/><line x1="460.6" y1="843.1" x2="462.7" y2="844.0" stroke="#f0a060" stroke-width="1.0" stroke-linecap="round" opacity="0.6"/><line x1="447.5" y1="840.0" x2="451.1" y2="840.5" stroke="#f0a060" stroke-width="1.0" stroke-linecap="round" opacity="0.6"/><line x1="437.8" y1="848.4" x2="440.5" y2="849.6" stroke="#f0a060" stroke-width="1.0" stroke-linecap="round" opacity="0.6"/><line x1="440.4" y1="848.5" x2="442.4" y2="849.1" stroke="#f0a060" stroke-width="1.0" stroke-linecap="round" opacity="0.6"/><line x1="458.7" y1="859.8" x2="461.9" y2="861.2" stroke="#f0a060" stroke-width="1.0" stroke-linecap="round" opacity="0.6"/><line x1="461.8" y1="859.2" x2="464.5" y2="859.7" stroke="#f0a060" stroke-width="1.0" stroke-linecap="round" opacity="0.6"/><line x1="456.2" y1="847.9" x2="458.3" y2="848.5" stroke="#f0a060" stroke-width="1.0" stroke-linecap="round" opacity="0.6"/><line x1="453.7" y1="850.2" x2="456.5" y2="850.6" stroke="#f0a060" stroke-width="1.0" stroke-linecap="round" opacity="0.6"/><line x1="454.7" y1="850.8" x2="456.6" y2="851.5" stroke="#f0a060" stroke-width="1.0" stroke-linecap="round" opacity="0.6"/><line x1="439.7" y1="856.7" x2="442.1" y2="858.1" stroke="#f0a060" stroke-width="1.0" stroke-linecap="round" opacity="0.6"/><line x1="443.7" y1="851.5" x2="446.0" y2="852.3" stroke="#f0a060" stroke-width="1.0" stroke-linecap="round" opacity="0.6"/><line x1="454.7" y1="861.9" x2="457.7" y2="862.5" stroke="#f0a060" stroke-width="1.0" stroke-linecap="round" opacity="0.6"/><line x1="449.4" y1="854.2" x2="451.4" y2="854.4" stroke="#f0a060" stroke-width="1.0" stroke-linecap="round" opacity="0.6"/><line x1="448.4" y1="841.9" x2="451.5" y2="842.5" stroke="#f0a060" stroke-width="1.0" stroke-linecap="round" opacity="0.6"/><line x1="443.5" y1="844.9" x2="446.2" y2="845.7" stroke="#f0a060" stroke-width="1.0" stroke-linecap="round" opacity="0.6"/><line x1="446.0" y1="857.1" x2="448.1" y2="858.2" stroke="#f0a060" stroke-width="1.0" stroke-linecap="round" opacity="0.6"/><line x1="449.2" y1="853.7" x2="452.1" y2="854.0" stroke="#f0a060" stroke-width="1.0" stroke-linecap="round" opacity="0.6"/><line x1="449.1" y1="854.1" x2="451.4" y2="854.4" stroke="#f0a060" stroke-width="1.0" stroke-linecap="round" opacity="0.6"/><line x1="460.1" y1="849.0" x2="462.6" y2="850.3" stroke="#f0a060" stroke-width="1.0" stroke-linecap="round" opacity="0.6"/><line x1="454.1" y1="847.0" x2="457.5" y2="847.8" stroke="#f0a060" stroke-width="1.0" stroke-linecap="round" opacity="0.6"/><line x1="439.5" y1="847.3" x2="442.6" y2="848.5" stroke="#f0a060" stroke-width="1.0" stroke-linecap="round" opacity="0.6"/><line x1="437.3" y1="851.7" x2="439.8" y2="852.5" stroke="#f0a060" stroke-width="1.0" stroke-linecap="round" opacity="0.6"/><line x1="443.1" y1="855.9" x2="445.2" y2="856.3" stroke="#f0a060" stroke-width="1.0" stroke-linecap="round" opacity="0.6"/><line x1="447.9" y1="865.7" x2="449.9" y2="866.6" stroke="#f0a060" stroke-width="1.0" stroke-linecap="round" opacity="0.6"/><line x1="442.4" y1="855.2" x2="444.9" y2="855.9" stroke="#f0a060" stroke-width="1.0" stroke-linecap="round" opacity="0.6"/><line x1="458.9" y1="850.3" x2="461.0" y2="850.6" stroke="#f0a060" stroke-width="1.0" stroke-linecap="round" opacity="0.6"/><line x1="455.1" y1="866.7" x2="458.2" y2="867.0" stroke="#f0a060" stroke-width="1.0" stroke-linecap="round" opacity="0.6"/><line x1="455.7" y1="861.1" x2="458.7" y2="862.0" stroke="#f0a060" stroke-width="1.0" stroke-linecap="round" opacity="0.6"/><line x1="446.9" y1="851.9" x2="450.1" y2="852.6" stroke="#f0a060" stroke-width="1.0" stroke-linecap="round" opacity="0.6"/><line x1="451.8" y1="852.1" x2="455.0" y2="853.6" stroke="#f0a060" stroke-width="1.0" stroke-linecap="round" opacity="0.6"/><line x1="445.3" y1="845.4" x2="448.1" y2="846.0" stroke="#f0a060" stroke-width="1.0" stroke-linecap="round" opacity="0.6"/><line x1="448.9" y1="858.1" x2="452.1" y2="859.3" stroke="#f0a060" stroke-width="1.0" stroke-linecap="round" opacity="0.6"/><line x1="441.3" y1="851.0" x2="443.4" y2="851.2" stroke="#f0a060" stroke-width="1.0" stroke-linecap="round" opacity="0.6"/></g>
<text x="453.4" y="859.7" font-family="Liberation Sans" font-size="17" font-weight="bold" font-style="normal" fill="#000a3c" text-anchor="middle">2</text>
<g><line x1="671.9" y1="854.3" x2="674.3" y2="855.2" stroke="#f0a060" stroke-width="1.0" stroke-linecap="round" opacity="0.6"/><line x1="683.4" y1="840.5" x2="685.3" y2="841.3" stroke="#f0a060" stroke-width="1.0" stroke-linecap="round" opacity="0.6"/><line x1="672.0" y1="845.3" x2="675.4" y2="846.3" stroke="#f0a060" stroke-width="1.0" stroke-linecap="round" opacity="0.6"/><line x1="689.0" y1="852.6" x2="692.0" y2="853.0" stroke="#f0a060" stroke-width="1.0" stroke-linecap="round" opacity="0.6"/><line x1="683.3" y1="863.6" x2="685.9" y2="864.7" stroke="#f0a060" stroke-width="1.0" stroke-linecap="round" opacity="0.6"/><line x1="684.2" y1="840.3" x2="687.2" y2="841.4" stroke="#f0a060" stroke-width="1.0" stroke-linecap="round" opacity="0.6"/><line x1="689.9" y1="852.0" x2="692.7" y2="853.4" stroke="#f0a060" stroke-width="1.0" stroke-linecap="round" opacity="0.6"/><line x1="685.7" y1="865.2" x2="688.1" y2="866.3" stroke="#f0a060" stroke-width="1.0" stroke-linecap="round" opacity="0.6"/><line x1="677.4" y1="865.9" x2="680.8" y2="866.4" stroke="#f0a060" stroke-width="1.0" stroke-linecap="round" opacity="0.6"/><line x1="668.4" y1="844.8" x2="671.8" y2="845.8" stroke="#f0a060" stroke-width="1.0" stroke-linecap="round" opacity="0.6"/><line x1="683.0" y1="847.4" x2="685.7" y2="848.1" stroke="#f0a060" stroke-width="1.0" stroke-linecap="round" opacity="0.6"/><line x1="675.1" y1="855.3" x2="677.7" y2="856.6" stroke="#f0a060" stroke-width="1.0" stroke-linecap="round" opacity="0.6"/><line x1="684.5" y1="865.1" x2="687.4" y2="866.8" stroke="#f0a060" stroke-width="1.0" stroke-linecap="round" opacity="0.6"/><line x1="684.2" y1="842.9" x2="687.1" y2="844.6" stroke="#f0a060" stroke-width="1.0" stroke-linecap="round" opacity="0.6"/><line x1="690.9" y1="855.2" x2="694.0" y2="855.8" stroke="#f0a060" stroke-width="1.0" stroke-linecap="round" opacity="0.6"/><line x1="689.1" y1="855.5" x2="691.5" y2="855.8" stroke="#f0a060" stroke-width="1.0" stroke-linecap="round" opacity="0.6"/><line x1="677.0" y1="842.9" x2="679.2" y2="843.9" stroke="#f0a060" stroke-width="1.0" stroke-linecap="round" opacity="0.6"/><line x1="682.5" y1="839.9" x2="685.6" y2="840.7" stroke="#f0a060" stroke-width="1.0" stroke-linecap="round" opacity="0.6"/><line x1="679.6" y1="867.8" x2="682.1" y2="868.1" stroke="#f0a060" stroke-width="1.0" stroke-linecap="round" opacity="0.6"/><line x1="682.5" y1="839.6" x2="684.7" y2="840.2" stroke="#f0a060" stroke-width="1.0" stroke-linecap="round" opacity="0.6"/><line x1="683.0" y1="843.1" x2="684.8" y2="844.0" stroke="#f0a060" stroke-width="1.0" stroke-linecap="round" opacity="0.6"/><line x1="673.6" y1="866.4" x2="677.0" y2="867.2" stroke="#f0a060" stroke-width="1.0" stroke-linecap="round" opacity="0.6"/><line x1="678.1" y1="853.6" x2="681.0" y2="854.6" stroke="#f0a060" stroke-width="1.0" stroke-linecap="round" opacity="0.6"/><line x1="680.7" y1="856.5" x2="684.1" y2="857.5" stroke="#f0a060" stroke-width="1.0" stroke-linecap="round" opacity="0.6"/><line x1="677.5" y1="859.6" x2="679.9" y2="860.1" stroke="#f0a060" stroke-width="1.0" stroke-linecap="round" opacity="0.6"/><line x1="693.1" y1="854.0" x2="696.0" y2="854.2" stroke="#f0a060" stroke-width="1.0" stroke-linecap="round" opacity="0.6"/><line x1="677.3" y1="855.5" x2="679.2" y2="856.2" stroke="#f0a060" stroke-width="1.0" stroke-linecap="round" opacity="0.6"/><line x1="683.1" y1="840.3" x2="686.0" y2="841.2" stroke="#f0a060" stroke-width="1.0" stroke-linecap="round" opacity="0.6"/><line x1="684.5" y1="848.6" x2="687.3" y2="849.8" stroke="#f0a060" stroke-width="1.0" stroke-linecap="round" opacity="0.6"/><line x1="684.7" y1="866.6" x2="687.0" y2="867.3" stroke="#f0a060" stroke-width="1.0" stroke-linecap="round" opacity="0.6"/><line x1="682.1" y1="848.0" x2="684.6" y2="848.6" stroke="#f0a060" stroke-width="1.0" stroke-linecap="round" opacity="0.6"/><line x1="675.7" y1="856.0" x2="678.1" y2="856.6" stroke="#f0a060" stroke-width="1.0" stroke-linecap="round" opacity="0.6"/><line x1="681.5" y1="860.1" x2="683.9" y2="860.5" stroke="#f0a060" stroke-width="1.0" stroke-linecap="round" opacity="0.6"/><line x1="688.4" y1="845.6" x2="690.6" y2="846.2" stroke="#f0a060" stroke-width="1.0" stroke-linecap="round" opacity="0.6"/><line x1="685.2" y1="841.7" x2="687.7" y2="842.2" stroke="#f0a060" stroke-width="1.0" stroke-linecap="round" opacity="0.6"/><line x1="688.7" y1="851.4" x2="692.0" y2="852.0" stroke="#f0a060" stroke-width="1.0" stroke-linecap="round" opacity="0.6"/><line x1="674.3" y1="857.4" x2="677.6" y2="858.3" stroke="#f0a060" stroke-width="1.0" stroke-linecap="round" opacity="0.6"/><line x1="671.3" y1="842.3" x2="674.1" y2="842.7" stroke="#f0a060" stroke-width="1.0" stroke-linecap="round" opacity="0.6"/><line x1="688.5" y1="863.1" x2="690.7" y2="863.6" stroke="#f0a060" stroke-width="1.0" stroke-linecap="round" opacity="0.6"/><line x1="688.0" y1="857.2" x2="691.2" y2="858.0" stroke="#f0a060" stroke-width="1.0" stroke-linecap="round" opacity="0.6"/><line x1="668.4" y1="847.1" x2="671.6" y2="847.8" stroke="#f0a060" stroke-width="1.0" stroke-linecap="round" opacity="0.6"/><line x1="675.0" y1="850.7" x2="677.5" y2="851.4" stroke="#f0a060" stroke-width="1.0" stroke-linecap="round" opacity="0.6"/><line x1="677.1" y1="866.2" x2="680.5" y2="866.9" stroke="#f0a060" stroke-width="1.0" stroke-linecap="round" opacity="0.6"/><line x1="686.4" y1="862.8" x2="689.3" y2="863.7" stroke="#f0a060" stroke-width="1.0" stroke-linecap="round" opacity="0.6"/><line x1="673.4" y1="848.8" x2="675.8" y2="849.0" stroke="#f0a060" stroke-width="1.0" stroke-linecap="round" opacity="0.6"/><line x1="681.6" y1="847.1" x2="684.9" y2="847.5" stroke="#f0a060" stroke-width="1.0" stroke-linecap="round" opacity="0.6"/><line x1="690.9" y1="858.3" x2="693.9" y2="859.9" stroke="#f0a060" stroke-width="1.0" stroke-linecap="round" opacity="0.6"/><line x1="691.4" y1="855.3" x2="693.2" y2="856.1" stroke="#f0a060" stroke-width="1.0" stroke-linecap="round" opacity="0.6"/><line x1="669.7" y1="847.2" x2="672.6" y2="848.2" stroke="#f0a060" stroke-width="1.0" stroke-linecap="round" opacity="0.6"/><line x1="676.8" y1="865.9" x2="679.6" y2="866.6" stroke="#f0a060" stroke-width="1.0" stroke-linecap="round" opacity="0.6"/><line x1="672.3" y1="863.4" x2="674.8" y2="864.6" stroke="#f0a060" stroke-width="1.0" stroke-linecap="round" opacity="0.6"/><line x1="675.1" y1="844.1" x2="677.7" y2="845.3" stroke="#f0a060" stroke-width="1.0" stroke-linecap="round" opacity="0.6"/><line x1="669.6" y1="861.2" x2="672.7" y2="862.7" stroke="#f0a060" stroke-width="1.0" stroke-linecap="round" opacity="0.6"/><line x1="683.4" y1="863.8" x2="685.4" y2="864.2" stroke="#f0a060" stroke-width="1.0" stroke-linecap="round" opacity="0.6"/><line x1="672.7" y1="853.9" x2="675.3" y2="854.7" stroke="#f0a060" stroke-width="1.0" stroke-linecap="round" opacity="0.6"/></g>
<text x="681.5" y="859.7" font-family="Liberation Sans" font-size="17" font-weight="bold" font-style="normal" fill="#000a3c" text-anchor="middle">3</text>
<g><line x1="899.9" y1="841.8" x2="902.5" y2="842.2" stroke="#f0a060" stroke-width="1.0" stroke-linecap="round" opacity="0.6"/><line x1="894.8" y1="849.9" x2="897.9" y2="851.4" stroke="#f0a060" stroke-width="1.0" stroke-linecap="round" opacity="0.6"/><line x1="915.2" y1="845.1" x2="918.0" y2="845.7" stroke="#f0a060" stroke-width="1.0" stroke-linecap="round" opacity="0.6"/><line x1="916.8" y1="862.1" x2="920.1" y2="862.7" stroke="#f0a060" stroke-width="1.0" stroke-linecap="round" opacity="0.6"/><line x1="902.0" y1="856.5" x2="904.8" y2="857.9" stroke="#f0a060" stroke-width="1.0" stroke-linecap="round" opacity="0.6"/><line x1="910.6" y1="858.2" x2="913.4" y2="858.7" stroke="#f0a060" stroke-width="1.0" stroke-linecap="round" opacity="0.6"/><line x1="906.6" y1="840.8" x2="909.7" y2="842.4" stroke="#f0a060" stroke-width="1.0" stroke-linecap="round" opacity="0.6"/><line x1="908.7" y1="847.1" x2="911.9" y2="848.3" stroke="#f0a060" stroke-width="1.0" stroke-linecap="round" opacity="0.6"/><line x1="907.7" y1="850.6" x2="910.6" y2="851.4" stroke="#f0a060" stroke-width="1.0" stroke-linecap="round" opacity="0.6"/><line x1="897.4" y1="847.7" x2="900.7" y2="848.0" stroke="#f0a060" stroke-width="1.0" stroke-linecap="round" opacity="0.6"/><line x1="894.6" y1="856.8" x2="896.9" y2="857.5" stroke="#f0a060" stroke-width="1.0" stroke-linecap="round" opacity="0.6"/><line x1="906.3" y1="848.6" x2="909.8" y2="849.3" stroke="#f0a060" stroke-width="1.0" stroke-linecap="round" opacity="0.6"/><line x1="904.9" y1="844.6" x2="907.8" y2="845.2" stroke="#f0a060" stroke-width="1.0" stroke-linecap="round" opacity="0.6"/><line x1="903.5" y1="860.3" x2="905.9" y2="861.1" stroke="#f0a060" stroke-width="1.0" stroke-linecap="round" opacity="0.6"/><line x1="915.4" y1="856.6" x2="917.7" y2="857.1" stroke="#f0a060" stroke-width="1.0" stroke-linecap="round" opacity="0.6"/><line x1="898.6" y1="851.9" x2="900.5" y2="852.7" stroke="#f0a060" stroke-width="1.0" stroke-linecap="round" opacity="0.6"/><line x1="905.0" y1="865.7" x2="907.7" y2="867.0" stroke="#f0a060" stroke-width="1.0" stroke-linecap="round" opacity="0.6"/><line x1="901.6" y1="844.4" x2="904.2" y2="844.7" stroke="#f0a060" stroke-width="1.0" stroke-linecap="round" opacity="0.6"/><line x1="904.2" y1="866.8" x2="906.7" y2="867.0" stroke="#f0a060" stroke-width="1.0" stroke-linecap="round" opacity="0.6"/><line x1="915.9" y1="849.4" x2="918.4" y2="849.7" stroke="#f0a060" stroke-width="1.0" stroke-linecap="round" opacity="0.6"/><line x1="921.7" y1="851.2" x2="924.0" y2="851.4" stroke="#f0a060" stroke-width="1.0" stroke-linecap="round" opacity="0.6"/><line x1="913.0" y1="843.0" x2="915.0" y2="843.6" stroke="#f0a060" stroke-width="1.0" stroke-linecap="round" opacity="0.6"/><line x1="896.4" y1="853.9" x2="899.5" y2="854.8" stroke="#f0a060" stroke-width="1.0" stroke-linecap="round" opacity="0.6"/><line x1="921.9" y1="852.5" x2="924.2" y2="853.2" stroke="#f0a060" stroke-width="1.0" stroke-linecap="round" opacity="0.6"/><line x1="894.4" y1="850.7" x2="896.5" y2="851.8" stroke="#f0a060" stroke-width="1.0" stroke-linecap="round" opacity="0.6"/><line x1="917.5" y1="853.3" x2="919.5" y2="853.7" stroke="#f0a060" stroke-width="1.0" stroke-linecap="round" opacity="0.6"/><line x1="900.4" y1="844.5" x2="902.5" y2="845.6" stroke="#f0a060" stroke-width="1.0" stroke-linecap="round" opacity="0.6"/><line x1="919.6" y1="854.9" x2="923.0" y2="855.9" stroke="#f0a060" stroke-width="1.0" stroke-linecap="round" opacity="0.6"/><line x1="919.0" y1="857.3" x2="922.0" y2="858.6" stroke="#f0a060" stroke-width="1.0" stroke-linecap="round" opacity="0.6"/><line x1="907.7" y1="841.2" x2="909.8" y2="842.2" stroke="#f0a060" stroke-width="1.0" stroke-linecap="round" opacity="0.6"/><line x1="902.6" y1="857.5" x2="905.7" y2="858.6" stroke="#f0a060" stroke-width="1.0" stroke-linecap="round" opacity="0.6"/><line x1="916.6" y1="853.7" x2="919.4" y2="854.9" stroke="#f0a060" stroke-width="1.0" stroke-linecap="round" opacity="0.6"/><line x1="900.4" y1="865.6" x2="903.9" y2="866.0" stroke="#f0a060" stroke-width="1.0" stroke-linecap="round" opacity="0.6"/><line x1="912.1" y1="840.0" x2="915.5" y2="840.5" stroke="#f0a060" stroke-width="1.0" stroke-linecap="round" opacity="0.6"/><line x1="921.5" y1="858.2" x2="923.5" y2="858.5" stroke="#f0a060" stroke-width="1.0" stroke-linecap="round" opacity="0.6"/><line x1="911.4" y1="854.8" x2="914.2" y2="856.3" stroke="#f0a060" stroke-width="1.0" stroke-linecap="round" opacity="0.6"/><line x1="916.3" y1="861.2" x2="919.5" y2="862.3" stroke="#f0a060" stroke-width="1.0" stroke-linecap="round" opacity="0.6"/><line x1="918.4" y1="844.5" x2="921.4" y2="845.2" stroke="#f0a060" stroke-width="1.0" stroke-linecap="round" opacity="0.6"/><line x1="919.0" y1="861.0" x2="921.6" y2="861.9" stroke="#f0a060" stroke-width="1.0" stroke-linecap="round" opacity="0.6"/><line x1="910.1" y1="852.6" x2="913.2" y2="853.8" stroke="#f0a060" stroke-width="1.0" stroke-linecap="round" opacity="0.6"/><line x1="896.9" y1="849.0" x2="900.0" y2="850.0" stroke="#f0a060" stroke-width="1.0" stroke-linecap="round" opacity="0.6"/><line x1="908.6" y1="849.7" x2="911.7" y2="850.4" stroke="#f0a060" stroke-width="1.0" stroke-linecap="round" opacity="0.6"/><line x1="899.4" y1="852.9" x2="902.9" y2="853.3" stroke="#f0a060" stroke-width="1.0" stroke-linecap="round" opacity="0.6"/><line x1="896.1" y1="856.5" x2="899.3" y2="857.5" stroke="#f0a060" stroke-width="1.0" stroke-linecap="round" opacity="0.6"/><line x1="905.4" y1="863.7" x2="908.6" y2="864.1" stroke="#f0a060" stroke-width="1.0" stroke-linecap="round" opacity="0.6"/><line x1="918.8" y1="844.1" x2="921.1" y2="845.2" stroke="#f0a060" stroke-width="1.0" stroke-linecap="round" opacity="0.6"/><line x1="905.6" y1="861.6" x2="907.7" y2="862.7" stroke="#f0a060" stroke-width="1.0" stroke-linecap="round" opacity="0.6"/><line x1="898.2" y1="843.0" x2="900.9" y2="843.7" stroke="#f0a060" stroke-width="1.0" stroke-linecap="round" opacity="0.6"/><line x1="908.6" y1="865.1" x2="911.7" y2="865.4" stroke="#f0a060" stroke-width="1.0" stroke-linecap="round" opacity="0.6"/><line x1="902.2" y1="854.3" x2="904.7" y2="855.3" stroke="#f0a060" stroke-width="1.0" stroke-linecap="round" opacity="0.6"/><line x1="907.4" y1="840.7" x2="909.5" y2="841.7" stroke="#f0a060" stroke-width="1.0" stroke-linecap="round" opacity="0.6"/><line x1="903.1" y1="860.6" x2="906.4" y2="861.9" stroke="#f0a060" stroke-width="1.0" stroke-linecap="round" opacity="0.6"/><line x1="912.9" y1="856.1" x2="915.1" y2="857.3" stroke="#f0a060" stroke-width="1.0" stroke-linecap="round" opacity="0.6"/><line x1="906.8" y1="864.9" x2="909.1" y2="866.0" stroke="#f0a060" stroke-width="1.0" stroke-linecap="round" opacity="0.6"/><line x1="915.9" y1="856.6" x2="918.6" y2="857.0" stroke="#f0a060" stroke-width="1.0" stroke-linecap="round" opacity="0.6"/></g>
<text x="909.7" y="859.7" font-family="Liberation Sans" font-size="17" font-weight="bold" font-style="normal" fill="#000a3c" text-anchor="middle">4</text>
<text x="149.4" y="889.2" font-family="Liberation Sans" font-size="11.5" font-weight="bold" font-style="normal" fill="#000a3c" text-anchor="start" textLength="149.2" lengthAdjust="spacingAndGlyphs">Favoriser l’engagement</text>
<text x="187.4" y="907.9" font-family="Liberation Sans" font-size="14" font-weight="normal" font-style="normal" fill="#0e1342" text-anchor="start" textLength="73.6" lengthAdjust="spacingAndGlyphs" stroke="#0e1342" stroke-width="0.22">des adhérents</text>
<text x="161.8" y="927.6" font-family="Liberation Sans" font-size="14" font-weight="normal" font-style="normal" fill="#0e1342" text-anchor="start" textLength="124.4" lengthAdjust="spacingAndGlyphs" stroke="#0e1342" stroke-width="0.22">au sein de l’association</text>
<text x="390.4" y="889.1" font-family="Liberation Sans" font-size="11.5" font-weight="bold" font-style="normal" fill="#000a3c" text-anchor="start" textLength="124.4" lengthAdjust="spacingAndGlyphs">Réduire la frontière</text>
<text x="394.8" y="908.0" font-family="Liberation Sans" font-size="14" font-weight="normal" font-style="normal" fill="#0e1342" text-anchor="start" textLength="114.7" lengthAdjust="spacingAndGlyphs" stroke="#0e1342" stroke-width="0.22">entre aidés et aidants</text>
<text x="622.6" y="888.9" font-family="Liberation Sans" font-size="11.5" font-weight="bold" font-style="normal" fill="#000a3c" text-anchor="start" textLength="115.7" lengthAdjust="spacingAndGlyphs">Élargir les horaires</text>
<text x="617.4" y="908.2" font-family="Liberation Sans" font-size="14" font-weight="normal" font-style="normal" fill="#0e1342" text-anchor="start" textLength="126.2" lengthAdjust="spacingAndGlyphs" stroke="#0e1342" stroke-width="0.22">d’ouverture des ateliers</text>
<text x="851.2" y="889.0" font-family="Liberation Sans" font-size="11.5" font-weight="bold" font-style="normal" fill="#000a3c" text-anchor="start" textLength="114.5" lengthAdjust="spacingAndGlyphs">Adapter l’activité</text>
<text x="843.1" y="908.0" font-family="Liberation Sans" font-size="14" font-weight="normal" font-style="normal" fill="#0e1342" text-anchor="start" textLength="129.9" lengthAdjust="spacingAndGlyphs" stroke="#0e1342" stroke-width="0.22">à la demande croissante</text>
<defs><clipPath id="yc"><rect x="0" y="0" width="1073.5" height="1536"/></clipPath></defs><g clip-path="url(#yc)"><line x1="1038.5" y1="960.6" x2="1046.4" y2="958.8" stroke="#f8d52e" stroke-width="2.0" stroke-linecap="round" opacity="1.0"/><line x1="1051.3" y1="958.5" x2="1060.7" y2="957.0" stroke="#f8d52e" stroke-width="2.0" stroke-linecap="round" opacity="1.0"/><line x1="1031.6" y1="965.1" x2="1037.8" y2="964.1" stroke="#f8d52e" stroke-width="2.0" stroke-linecap="round" opacity="1.0"/><line x1="1046.0" y1="965.9" x2="1051.9" y2="964.6" stroke="#f8d52e" stroke-width="2.0" stroke-linecap="round" opacity="1.0"/><line x1="1056.0" y1="966.9" x2="1062.4" y2="965.9" stroke="#f8d52e" stroke-width="2.0" stroke-linecap="round" opacity="1.0"/><line x1="1003.8" y1="974.0" x2="1013.0" y2="974.1" stroke="#f8d52e" stroke-width="2.0" stroke-linecap="round" opacity="1.0"/><line x1="1012.3" y1="974.8" x2="1021.5" y2="973.3" stroke="#f8d52e" stroke-width="2.0" stroke-linecap="round" opacity="1.0"/><line x1="1029.8" y1="978.4" x2="1036.8" y2="976.6" stroke="#f8d52e" stroke-width="2.0" stroke-linecap="round" opacity="1.0"/><line x1="1036.0" y1="978.9" x2="1044.1" y2="976.9" stroke="#f8d52e" stroke-width="2.0" stroke-linecap="round" opacity="1.0"/><line x1="1053.9" y1="976.7" x2="1060.0" y2="975.5" stroke="#f8d52e" stroke-width="2.0" stroke-linecap="round" opacity="1.0"/><line x1="1060.3" y1="975.4" x2="1068.9" y2="973.1" stroke="#f8d52e" stroke-width="2.0" stroke-linecap="round" opacity="1.0"/><line x1="1005.6" y1="985.4" x2="1014.0" y2="984.7" stroke="#f8d52e" stroke-width="2.0" stroke-linecap="round" opacity="1.0"/><line x1="1023.7" y1="982.4" x2="1032.1" y2="982.2" stroke="#f8d52e" stroke-width="2.0" stroke-linecap="round" opacity="1.0"/><line x1="1034.0" y1="986.3" x2="1043.0" y2="984.5" stroke="#f8d52e" stroke-width="2.0" stroke-linecap="round" opacity="1.0"/><line x1="1046.9" y1="986.9" x2="1054.0" y2="985.9" stroke="#f8d52e" stroke-width="2.0" stroke-linecap="round" opacity="1.0"/><line x1="1060.3" y1="985.6" x2="1067.1" y2="983.9" stroke="#f8d52e" stroke-width="2.0" stroke-linecap="round" opacity="1.0"/><line x1="1069.7" y1="983.3" x2="1079.0" y2="981.3" stroke="#f8d52e" stroke-width="2.0" stroke-linecap="round" opacity="1.0"/><line x1="977.6" y1="993.5" x2="983.6" y2="994.7" stroke="#f8d52e" stroke-width="2.0" stroke-linecap="round" opacity="1.0"/><line x1="991.6" y1="992.6" x2="998.4" y2="993.2" stroke="#f8d52e" stroke-width="2.0" stroke-linecap="round" opacity="1.0"/><line x1="999.8" y1="992.4" x2="1008.9" y2="993.3" stroke="#f8d52e" stroke-width="2.0" stroke-linecap="round" opacity="1.0"/><line x1="1014.7" y1="993.8" x2="1020.7" y2="993.5" stroke="#f8d52e" stroke-width="2.0" stroke-linecap="round" opacity="1.0"/><line x1="1028.0" y1="995.7" x2="1037.2" y2="994.2" stroke="#f8d52e" stroke-width="2.0" stroke-linecap="round" opacity="1.0"/><line x1="1037.7" y1="993.5" x2="1043.9" y2="992.4" stroke="#f8d52e" stroke-width="2.0" stroke-linecap="round" opacity="1.0"/><line x1="1051.3" y1="993.6" x2="1060.2" y2="992.7" stroke="#f8d52e" stroke-width="2.0" stroke-linecap="round" opacity="1.0"/><line x1="1062.7" y1="992.8" x2="1071.1" y2="989.4" stroke="#f8d52e" stroke-width="2.0" stroke-linecap="round" opacity="1.0"/><line x1="960.2" y1="1001.6" x2="969.2" y2="1003.9" stroke="#f8d52e" stroke-width="2.0" stroke-linecap="round" opacity="1.0"/><line x1="971.6" y1="1001.5" x2="977.0" y2="1002.3" stroke="#f8d52e" stroke-width="2.0" stroke-linecap="round" opacity="1.0"/><line x1="986.2" y1="999.9" x2="993.0" y2="1000.9" stroke="#f8d52e" stroke-width="2.0" stroke-linecap="round" opacity="1.0"/><line x1="997.1" y1="1002.1" x2="1004.1" y2="1003.0" stroke="#f8d52e" stroke-width="2.0" stroke-linecap="round" opacity="1.0"/><line x1="1022.2" y1="1000.0" x2="1030.2" y2="1000.3" stroke="#f8d52e" stroke-width="2.0" stroke-linecap="round" opacity="1.0"/><line x1="1032.0" y1="1002.3" x2="1040.7" y2="1002.3" stroke="#f8d52e" stroke-width="2.0" stroke-linecap="round" opacity="1.0"/><line x1="1044.9" y1="1003.1" x2="1053.3" y2="1002.4" stroke="#f8d52e" stroke-width="2.0" stroke-linecap="round" opacity="1.0"/><line x1="1057.8" y1="1003.6" x2="1066.9" y2="1002.6" stroke="#f8d52e" stroke-width="2.0" stroke-linecap="round" opacity="1.0"/><line x1="1073.2" y1="1002.8" x2="1079.9" y2="1001.5" stroke="#f8d52e" stroke-width="2.0" stroke-linecap="round" opacity="1.0"/><line x1="941.3" y1="1011.3" x2="947.1" y2="1013.2" stroke="#f8d52e" stroke-width="2.0" stroke-linecap="round" opacity="1.0"/><line x1="954.3" y1="1011.3" x2="963.2" y2="1013.7" stroke="#f8d52e" stroke-width="2.0" stroke-linecap="round" opacity="1.0"/><line x1="968.5" y1="1008.2" x2="976.1" y2="1009.3" stroke="#f8d52e" stroke-width="2.0" stroke-linecap="round" opacity="1.0"/><line x1="978.8" y1="1010.8" x2="987.5" y2="1012.2" stroke="#f8d52e" stroke-width="2.0" stroke-linecap="round" opacity="1.0"/><line x1="988.3" y1="1010.0" x2="997.4" y2="1010.4" stroke="#f8d52e" stroke-width="2.0" stroke-linecap="round" opacity="1.0"/><line x1="1004.4" y1="1013.3" x2="1012.2" y2="1013.0" stroke="#f8d52e" stroke-width="2.0" stroke-linecap="round" opacity="1.0"/><line x1="1015.8" y1="1010.5" x2="1021.4" y2="1011.1" stroke="#f8d52e" stroke-width="2.0" stroke-linecap="round" opacity="1.0"/><line x1="1026.8" y1="1010.6" x2="1034.6" y2="1010.0" stroke="#f8d52e" stroke-width="2.0" stroke-linecap="round" opacity="1.0"/><line x1="1040.4" y1="1008.7" x2="1047.5" y2="1008.6" stroke="#f8d52e" stroke-width="2.0" stroke-linecap="round" opacity="1.0"/><line x1="1054.6" y1="1010.3" x2="1060.5" y2="1009.0" stroke="#f8d52e" stroke-width="2.0" stroke-linecap="round" opacity="1.0"/><line x1="1065.9" y1="1013.9" x2="1072.3" y2="1011.7" stroke="#f8d52e" stroke-width="2.0" stroke-linecap="round" opacity="1.0"/><line x1="923.6" y1="1017.5" x2="928.8" y2="1020.3" stroke="#f8d52e" stroke-width="2.0" stroke-linecap="round" opacity="1.0"/><line x1="934.3" y1="1018.4" x2="940.1" y2="1020.9" stroke="#f8d52e" stroke-width="2.0" stroke-linecap="round" opacity="1.0"/><line x1="947.6" y1="1018.1" x2="955.0" y2="1019.9" stroke="#f8d52e" stroke-width="2.0" stroke-linecap="round" opacity="1.0"/><line x1="958.6" y1="1018.9" x2="965.7" y2="1021.6" stroke="#f8d52e" stroke-width="2.0" stroke-linecap="round" opacity="1.0"/><line x1="972.7" y1="1020.2" x2="980.8" y2="1022.6" stroke="#f8d52e" stroke-width="2.0" stroke-linecap="round" opacity="1.0"/><line x1="986.1" y1="1018.3" x2="995.3" y2="1019.0" stroke="#f8d52e" stroke-width="2.0" stroke-linecap="round" opacity="1.0"/><line x1="1000.3" y1="1021.1" x2="1006.7" y2="1022.0" stroke="#f8d52e" stroke-width="2.0" stroke-linecap="round" opacity="1.0"/><line x1="1007.7" y1="1017.2" x2="1014.8" y2="1018.0" stroke="#f8d52e" stroke-width="2.0" stroke-linecap="round" opacity="1.0"/><line x1="1019.9" y1="1019.3" x2="1025.4" y2="1018.9" stroke="#f8d52e" stroke-width="2.0" stroke-linecap="round" opacity="1.0"/><line x1="1043.2" y1="1019.9" x2="1050.7" y2="1019.3" stroke="#f8d52e" stroke-width="2.0" stroke-linecap="round" opacity="1.0"/><line x1="1056.9" y1="1018.0" x2="1062.4" y2="1016.9" stroke="#f8d52e" stroke-width="2.0" stroke-linecap="round" opacity="1.0"/><line x1="1070.8" y1="1021.0" x2="1076.7" y2="1018.9" stroke="#f8d52e" stroke-width="2.0" stroke-linecap="round" opacity="1.0"/><line x1="905.3" y1="1027.7" x2="911.5" y2="1031.7" stroke="#f8d52e" stroke-width="2.0" stroke-linecap="round" opacity="1.0"/><line x1="916.9" y1="1026.6" x2="923.8" y2="1031.2" stroke="#f8d52e" stroke-width="2.0" stroke-linecap="round" opacity="1.0"/><line x1="927.8" y1="1026.9" x2="934.4" y2="1029.5" stroke="#f8d52e" stroke-width="2.0" stroke-linecap="round" opacity="1.0"/><line x1="939.1" y1="1026.4" x2="947.2" y2="1030.5" stroke="#f8d52e" stroke-width="2.0" stroke-linecap="round" opacity="1.0"/><line x1="955.3" y1="1029.0" x2="962.0" y2="1031.4" stroke="#f8d52e" stroke-width="2.0" stroke-linecap="round" opacity="1.0"/><line x1="966.6" y1="1029.6" x2="972.7" y2="1032.0" stroke="#f8d52e" stroke-width="2.0" stroke-linecap="round" opacity="1.0"/><line x1="979.9" y1="1028.7" x2="986.7" y2="1030.9" stroke="#f8d52e" stroke-width="2.0" stroke-linecap="round" opacity="1.0"/><line x1="992.0" y1="1028.8" x2="1000.5" y2="1029.9" stroke="#f8d52e" stroke-width="2.0" stroke-linecap="round" opacity="1.0"/><line x1="1003.9" y1="1026.4" x2="1011.2" y2="1026.1" stroke="#f8d52e" stroke-width="2.0" stroke-linecap="round" opacity="1.0"/><line x1="1014.4" y1="1028.6" x2="1020.7" y2="1029.6" stroke="#f8d52e" stroke-width="2.0" stroke-linecap="round" opacity="1.0"/><line x1="1027.7" y1="1027.7" x2="1035.5" y2="1027.5" stroke="#f8d52e" stroke-width="2.0" stroke-linecap="round" opacity="1.0"/><line x1="1038.0" y1="1030.9" x2="1046.3" y2="1030.9" stroke="#f8d52e" stroke-width="2.0" stroke-linecap="round" opacity="1.0"/><line x1="1053.8" y1="1027.0" x2="1062.0" y2="1025.1" stroke="#f8d52e" stroke-width="2.0" stroke-linecap="round" opacity="1.0"/><line x1="1063.3" y1="1027.2" x2="1069.9" y2="1025.1" stroke="#f8d52e" stroke-width="2.0" stroke-linecap="round" opacity="1.0"/><line x1="899.5" y1="1037.5" x2="907.1" y2="1041.9" stroke="#f8d52e" stroke-width="2.0" stroke-linecap="round" opacity="1.0"/><line x1="911.6" y1="1036.3" x2="919.8" y2="1040.7" stroke="#f8d52e" stroke-width="2.0" stroke-linecap="round" opacity="1.0"/><line x1="923.5" y1="1034.0" x2="930.8" y2="1037.1" stroke="#f8d52e" stroke-width="2.0" stroke-linecap="round" opacity="1.0"/><line x1="938.5" y1="1035.3" x2="945.8" y2="1038.4" stroke="#f8d52e" stroke-width="2.0" stroke-linecap="round" opacity="1.0"/><line x1="947.4" y1="1036.5" x2="953.4" y2="1039.4" stroke="#f8d52e" stroke-width="2.0" stroke-linecap="round" opacity="1.0"/><line x1="959.9" y1="1034.1" x2="965.4" y2="1035.5" stroke="#f8d52e" stroke-width="2.0" stroke-linecap="round" opacity="1.0"/><line x1="973.4" y1="1036.0" x2="981.8" y2="1037.3" stroke="#f8d52e" stroke-width="2.0" stroke-linecap="round" opacity="1.0"/><line x1="986.8" y1="1038.6" x2="995.7" y2="1040.3" stroke="#f8d52e" stroke-width="2.0" stroke-linecap="round" opacity="1.0"/><line x1="996.7" y1="1038.6" x2="1004.0" y2="1040.6" stroke="#f8d52e" stroke-width="2.0" stroke-linecap="round" opacity="1.0"/><line x1="1022.8" y1="1037.7" x2="1030.8" y2="1037.8" stroke="#f8d52e" stroke-width="2.0" stroke-linecap="round" opacity="1.0"/><line x1="1032.3" y1="1035.1" x2="1038.3" y2="1034.8" stroke="#f8d52e" stroke-width="2.0" stroke-linecap="round" opacity="1.0"/><line x1="1046.4" y1="1037.5" x2="1054.2" y2="1036.5" stroke="#f8d52e" stroke-width="2.0" stroke-linecap="round" opacity="1.0"/><line x1="1073.5" y1="1038.8" x2="1079.4" y2="1037.9" stroke="#f8d52e" stroke-width="2.0" stroke-linecap="round" opacity="1.0"/><line x1="880.6" y1="1042.1" x2="886.1" y2="1047.6" stroke="#f8d52e" stroke-width="2.0" stroke-linecap="round" opacity="1.0"/><line x1="895.0" y1="1044.9" x2="899.4" y2="1049.6" stroke="#f8d52e" stroke-width="2.0" stroke-linecap="round" opacity="1.0"/><line x1="908.7" y1="1046.3" x2="913.5" y2="1049.5" stroke="#f8d52e" stroke-width="2.0" stroke-linecap="round" opacity="1.0"/><line x1="917.0" y1="1044.8" x2="923.7" y2="1048.4" stroke="#f8d52e" stroke-width="2.0" stroke-linecap="round" opacity="1.0"/><line x1="927.0" y1="1044.9" x2="934.0" y2="1048.8" stroke="#f8d52e" stroke-width="2.0" stroke-linecap="round" opacity="1.0"/><line x1="941.4" y1="1042.4" x2="948.7" y2="1046.7" stroke="#f8d52e" stroke-width="2.0" stroke-linecap="round" opacity="1.0"/><line x1="951.3" y1="1042.3" x2="958.4" y2="1045.9" stroke="#f8d52e" stroke-width="2.0" stroke-linecap="round" opacity="1.0"/><line x1="963.7" y1="1044.3" x2="972.0" y2="1047.0" stroke="#f8d52e" stroke-width="2.0" stroke-linecap="round" opacity="1.0"/><line x1="979.1" y1="1047.2" x2="986.4" y2="1049.7" stroke="#f8d52e" stroke-width="2.0" stroke-linecap="round" opacity="1.0"/><line x1="993.7" y1="1044.8" x2="999.3" y2="1046.5" stroke="#f8d52e" stroke-width="2.0" stroke-linecap="round" opacity="1.0"/><line x1="1000.0" y1="1043.2" x2="1007.3" y2="1044.7" stroke="#f8d52e" stroke-width="2.0" stroke-linecap="round" opacity="1.0"/><line x1="1014.0" y1="1047.0" x2="1020.3" y2="1047.8" stroke="#f8d52e" stroke-width="2.0" stroke-linecap="round" opacity="1.0"/><line x1="1024.0" y1="1045.1" x2="1032.2" y2="1044.9" stroke="#f8d52e" stroke-width="2.0" stroke-linecap="round" opacity="1.0"/><line x1="1037.2" y1="1045.7" x2="1044.1" y2="1044.8" stroke="#f8d52e" stroke-width="2.0" stroke-linecap="round" opacity="1.0"/><line x1="1065.6" y1="1049.2" x2="1074.1" y2="1047.0" stroke="#f8d52e" stroke-width="2.0" stroke-linecap="round" opacity="1.0"/><line x1="890.7" y1="1054.4" x2="895.9" y2="1059.1" stroke="#f8d52e" stroke-width="2.0" stroke-linecap="round" opacity="1.0"/><line x1="899.7" y1="1052.2" x2="904.4" y2="1056.4" stroke="#f8d52e" stroke-width="2.0" stroke-linecap="round" opacity="1.0"/><line x1="913.6" y1="1052.9" x2="920.2" y2="1057.1" stroke="#f8d52e" stroke-width="2.0" stroke-linecap="round" opacity="1.0"/><line x1="926.5" y1="1055.1" x2="931.2" y2="1058.3" stroke="#f8d52e" stroke-width="2.0" stroke-linecap="round" opacity="1.0"/><line x1="949.3" y1="1054.4" x2="955.9" y2="1058.3" stroke="#f8d52e" stroke-width="2.0" stroke-linecap="round" opacity="1.0"/><line x1="957.1" y1="1051.4" x2="965.7" y2="1054.1" stroke="#f8d52e" stroke-width="2.0" stroke-linecap="round" opacity="1.0"/><line x1="973.0" y1="1052.0" x2="980.8" y2="1054.1" stroke="#f8d52e" stroke-width="2.0" stroke-linecap="round" opacity="1.0"/><line x1="982.5" y1="1055.0" x2="990.8" y2="1057.2" stroke="#f8d52e" stroke-width="2.0" stroke-linecap="round" opacity="1.0"/><line x1="995.9" y1="1056.3" x2="1003.2" y2="1058.0" stroke="#f8d52e" stroke-width="2.0" stroke-linecap="round" opacity="1.0"/><line x1="1020.0" y1="1055.7" x2="1028.8" y2="1057.1" stroke="#f8d52e" stroke-width="2.0" stroke-linecap="round" opacity="1.0"/><line x1="1045.8" y1="1055.3" x2="1054.5" y2="1054.5" stroke="#f8d52e" stroke-width="2.0" stroke-linecap="round" opacity="1.0"/><line x1="1056.4" y1="1053.8" x2="1065.7" y2="1052.2" stroke="#f8d52e" stroke-width="2.0" stroke-linecap="round" opacity="1.0"/><line x1="1068.4" y1="1053.6" x2="1075.0" y2="1053.0" stroke="#f8d52e" stroke-width="2.0" stroke-linecap="round" opacity="1.0"/><line x1="895.5" y1="1059.4" x2="900.6" y2="1064.6" stroke="#f8d52e" stroke-width="2.0" stroke-linecap="round" opacity="1.0"/><line x1="908.5" y1="1059.4" x2="913.6" y2="1063.1" stroke="#f8d52e" stroke-width="2.0" stroke-linecap="round" opacity="1.0"/><line x1="916.6" y1="1062.9" x2="921.9" y2="1066.5" stroke="#f8d52e" stroke-width="2.0" stroke-linecap="round" opacity="1.0"/><line x1="928.9" y1="1060.0" x2="934.5" y2="1063.9" stroke="#f8d52e" stroke-width="2.0" stroke-linecap="round" opacity="1.0"/><line x1="943.4" y1="1060.9" x2="950.8" y2="1066.1" stroke="#f8d52e" stroke-width="2.0" stroke-linecap="round" opacity="1.0"/><line x1="965.4" y1="1060.1" x2="973.6" y2="1064.3" stroke="#f8d52e" stroke-width="2.0" stroke-linecap="round" opacity="1.0"/><line x1="978.2" y1="1062.3" x2="984.1" y2="1065.2" stroke="#f8d52e" stroke-width="2.0" stroke-linecap="round" opacity="1.0"/><line x1="991.3" y1="1061.5" x2="998.5" y2="1063.1" stroke="#f8d52e" stroke-width="2.0" stroke-linecap="round" opacity="1.0"/><line x1="1004.9" y1="1064.3" x2="1011.0" y2="1065.0" stroke="#f8d52e" stroke-width="2.0" stroke-linecap="round" opacity="1.0"/><line x1="1013.6" y1="1061.8" x2="1021.1" y2="1063.0" stroke="#f8d52e" stroke-width="2.0" stroke-linecap="round" opacity="1.0"/><line x1="1030.5" y1="1062.1" x2="1036.6" y2="1062.8" stroke="#f8d52e" stroke-width="2.0" stroke-linecap="round" opacity="1.0"/><line x1="1035.4" y1="1065.6" x2="1044.2" y2="1064.8" stroke="#f8d52e" stroke-width="2.0" stroke-linecap="round" opacity="1.0"/><line x1="1049.9" y1="1065.0" x2="1057.3" y2="1064.4" stroke="#f8d52e" stroke-width="2.0" stroke-linecap="round" opacity="1.0"/><line x1="1066.6" y1="1064.4" x2="1073.3" y2="1063.7" stroke="#f8d52e" stroke-width="2.0" stroke-linecap="round" opacity="1.0"/><line x1="885.8" y1="1071.1" x2="890.7" y2="1077.0" stroke="#f8d52e" stroke-width="2.0" stroke-linecap="round" opacity="1.0"/><line x1="898.3" y1="1071.9" x2="903.4" y2="1076.3" stroke="#f8d52e" stroke-width="2.0" stroke-linecap="round" opacity="1.0"/><line x1="911.5" y1="1069.8" x2="916.4" y2="1074.7" stroke="#f8d52e" stroke-width="2.0" stroke-linecap="round" opacity="1.0"/><line x1="921.5" y1="1068.7" x2="928.3" y2="1075.1" stroke="#f8d52e" stroke-width="2.0" stroke-linecap="round" opacity="1.0"/><line x1="936.8" y1="1067.9" x2="944.0" y2="1072.0" stroke="#f8d52e" stroke-width="2.0" stroke-linecap="round" opacity="1.0"/><line x1="948.2" y1="1069.5" x2="956.0" y2="1074.9" stroke="#f8d52e" stroke-width="2.0" stroke-linecap="round" opacity="1.0"/><line x1="959.0" y1="1071.3" x2="965.2" y2="1074.6" stroke="#f8d52e" stroke-width="2.0" stroke-linecap="round" opacity="1.0"/><line x1="971.0" y1="1070.2" x2="978.7" y2="1073.0" stroke="#f8d52e" stroke-width="2.0" stroke-linecap="round" opacity="1.0"/><line x1="982.2" y1="1071.9" x2="990.8" y2="1075.2" stroke="#f8d52e" stroke-width="2.0" stroke-linecap="round" opacity="1.0"/><line x1="998.9" y1="1071.1" x2="1004.7" y2="1072.0" stroke="#f8d52e" stroke-width="2.0" stroke-linecap="round" opacity="1.0"/><line x1="1007.2" y1="1072.7" x2="1013.3" y2="1073.8" stroke="#f8d52e" stroke-width="2.0" stroke-linecap="round" opacity="1.0"/><line x1="1023.7" y1="1072.8" x2="1030.1" y2="1072.9" stroke="#f8d52e" stroke-width="2.0" stroke-linecap="round" opacity="1.0"/><line x1="1030.3" y1="1071.8" x2="1039.4" y2="1072.1" stroke="#f8d52e" stroke-width="2.0" stroke-linecap="round" opacity="1.0"/><line x1="1045.0" y1="1073.4" x2="1053.8" y2="1072.9" stroke="#f8d52e" stroke-width="2.0" stroke-linecap="round" opacity="1.0"/><line x1="1056.9" y1="1072.2" x2="1064.0" y2="1071.8" stroke="#f8d52e" stroke-width="2.0" stroke-linecap="round" opacity="1.0"/><line x1="1072.8" y1="1075.1" x2="1080.4" y2="1072.6" stroke="#f8d52e" stroke-width="2.0" stroke-linecap="round" opacity="1.0"/><line x1="893.0" y1="1077.8" x2="898.4" y2="1084.7" stroke="#f8d52e" stroke-width="2.0" stroke-linecap="round" opacity="1.0"/><line x1="918.9" y1="1078.3" x2="923.2" y2="1082.6" stroke="#f8d52e" stroke-width="2.0" stroke-linecap="round" opacity="1.0"/><line x1="932.2" y1="1078.9" x2="939.6" y2="1083.7" stroke="#f8d52e" stroke-width="2.0" stroke-linecap="round" opacity="1.0"/><line x1="945.4" y1="1080.4" x2="950.4" y2="1083.3" stroke="#f8d52e" stroke-width="2.0" stroke-linecap="round" opacity="1.0"/><line x1="953.8" y1="1080.0" x2="961.9" y2="1084.4" stroke="#f8d52e" stroke-width="2.0" stroke-linecap="round" opacity="1.0"/><line x1="976.1" y1="1081.6" x2="983.1" y2="1084.8" stroke="#f8d52e" stroke-width="2.0" stroke-linecap="round" opacity="1.0"/><line x1="1003.8" y1="1080.9" x2="1012.4" y2="1082.5" stroke="#f8d52e" stroke-width="2.0" stroke-linecap="round" opacity="1.0"/><line x1="1016.4" y1="1079.5" x2="1025.2" y2="1080.3" stroke="#f8d52e" stroke-width="2.0" stroke-linecap="round" opacity="1.0"/><line x1="1027.8" y1="1078.4" x2="1033.9" y2="1079.7" stroke="#f8d52e" stroke-width="2.0" stroke-linecap="round" opacity="1.0"/><line x1="1041.4" y1="1081.7" x2="1049.5" y2="1082.3" stroke="#f8d52e" stroke-width="2.0" stroke-linecap="round" opacity="1.0"/><line x1="1051.5" y1="1082.0" x2="1057.1" y2="1081.3" stroke="#f8d52e" stroke-width="2.0" stroke-linecap="round" opacity="1.0"/><line x1="1063.2" y1="1080.3" x2="1070.8" y2="1078.6" stroke="#f8d52e" stroke-width="2.0" stroke-linecap="round" opacity="1.0"/><line x1="902.1" y1="1085.2" x2="905.4" y2="1090.2" stroke="#f8d52e" stroke-width="2.0" stroke-linecap="round" opacity="1.0"/><line x1="913.1" y1="1086.8" x2="918.3" y2="1092.9" stroke="#f8d52e" stroke-width="2.0" stroke-linecap="round" opacity="1.0"/><line x1="925.6" y1="1087.8" x2="932.1" y2="1094.7" stroke="#f8d52e" stroke-width="2.0" stroke-linecap="round" opacity="1.0"/><line x1="938.8" y1="1086.9" x2="944.5" y2="1092.2" stroke="#f8d52e" stroke-width="2.0" stroke-linecap="round" opacity="1.0"/><line x1="948.0" y1="1087.7" x2="955.7" y2="1092.5" stroke="#f8d52e" stroke-width="2.0" stroke-linecap="round" opacity="1.0"/><line x1="974.5" y1="1089.0" x2="980.5" y2="1092.0" stroke="#f8d52e" stroke-width="2.0" stroke-linecap="round" opacity="1.0"/><line x1="982.2" y1="1086.8" x2="989.2" y2="1089.5" stroke="#f8d52e" stroke-width="2.0" stroke-linecap="round" opacity="1.0"/><line x1="994.7" y1="1090.1" x2="1000.9" y2="1091.9" stroke="#f8d52e" stroke-width="2.0" stroke-linecap="round" opacity="1.0"/><line x1="1007.8" y1="1087.1" x2="1016.4" y2="1090.2" stroke="#f8d52e" stroke-width="2.0" stroke-linecap="round" opacity="1.0"/><line x1="1021.6" y1="1091.4" x2="1030.2" y2="1092.2" stroke="#f8d52e" stroke-width="2.0" stroke-linecap="round" opacity="1.0"/><line x1="1043.1" y1="1091.0" x2="1050.7" y2="1092.0" stroke="#f8d52e" stroke-width="2.0" stroke-linecap="round" opacity="1.0"/><line x1="1055.2" y1="1089.3" x2="1061.9" y2="1088.1" stroke="#f8d52e" stroke-width="2.0" stroke-linecap="round" opacity="1.0"/><line x1="1072.6" y1="1092.1" x2="1079.5" y2="1091.1" stroke="#f8d52e" stroke-width="2.0" stroke-linecap="round" opacity="1.0"/><line x1="905.9" y1="1093.5" x2="911.0" y2="1101.2" stroke="#f8d52e" stroke-width="2.0" stroke-linecap="round" opacity="1.0"/><line x1="916.3" y1="1097.9" x2="921.7" y2="1103.0" stroke="#f8d52e" stroke-width="2.0" stroke-linecap="round" opacity="1.0"/><line x1="932.1" y1="1098.8" x2="938.4" y2="1103.8" stroke="#f8d52e" stroke-width="2.0" stroke-linecap="round" opacity="1.0"/><line x1="944.0" y1="1094.2" x2="950.9" y2="1098.9" stroke="#f8d52e" stroke-width="2.0" stroke-linecap="round" opacity="1.0"/><line x1="957.4" y1="1098.8" x2="962.2" y2="1102.5" stroke="#f8d52e" stroke-width="2.0" stroke-linecap="round" opacity="1.0"/><line x1="969.4" y1="1097.1" x2="975.1" y2="1100.0" stroke="#f8d52e" stroke-width="2.0" stroke-linecap="round" opacity="1.0"/><line x1="980.2" y1="1095.8" x2="985.9" y2="1098.8" stroke="#f8d52e" stroke-width="2.0" stroke-linecap="round" opacity="1.0"/><line x1="991.6" y1="1096.5" x2="999.9" y2="1099.9" stroke="#f8d52e" stroke-width="2.0" stroke-linecap="round" opacity="1.0"/><line x1="1016.6" y1="1096.7" x2="1022.2" y2="1098.6" stroke="#f8d52e" stroke-width="2.0" stroke-linecap="round" opacity="1.0"/><line x1="1027.4" y1="1098.5" x2="1033.0" y2="1099.4" stroke="#f8d52e" stroke-width="2.0" stroke-linecap="round" opacity="1.0"/><line x1="1038.6" y1="1097.5" x2="1044.4" y2="1097.6" stroke="#f8d52e" stroke-width="2.0" stroke-linecap="round" opacity="1.0"/><line x1="1052.7" y1="1098.0" x2="1060.4" y2="1097.1" stroke="#f8d52e" stroke-width="2.0" stroke-linecap="round" opacity="1.0"/><line x1="1065.9" y1="1101.5" x2="1073.2" y2="1101.0" stroke="#f8d52e" stroke-width="2.0" stroke-linecap="round" opacity="1.0"/><line x1="901.2" y1="1104.8" x2="905.3" y2="1111.8" stroke="#f8d52e" stroke-width="2.0" stroke-linecap="round" opacity="1.0"/><line x1="912.6" y1="1104.4" x2="917.8" y2="1110.9" stroke="#f8d52e" stroke-width="2.0" stroke-linecap="round" opacity="1.0"/><line x1="927.9" y1="1103.7" x2="932.1" y2="1108.2" stroke="#f8d52e" stroke-width="2.0" stroke-linecap="round" opacity="1.0"/><line x1="935.0" y1="1104.1" x2="940.8" y2="1110.5" stroke="#f8d52e" stroke-width="2.0" stroke-linecap="round" opacity="1.0"/><line x1="947.1" y1="1105.1" x2="953.2" y2="1110.0" stroke="#f8d52e" stroke-width="2.0" stroke-linecap="round" opacity="1.0"/><line x1="958.1" y1="1105.6" x2="964.1" y2="1110.6" stroke="#f8d52e" stroke-width="2.0" stroke-linecap="round" opacity="1.0"/><line x1="970.9" y1="1104.0" x2="977.4" y2="1107.7" stroke="#f8d52e" stroke-width="2.0" stroke-linecap="round" opacity="1.0"/><line x1="985.5" y1="1104.9" x2="990.4" y2="1107.9" stroke="#f8d52e" stroke-width="2.0" stroke-linecap="round" opacity="1.0"/><line x1="997.8" y1="1106.9" x2="1004.0" y2="1108.7" stroke="#f8d52e" stroke-width="2.0" stroke-linecap="round" opacity="1.0"/><line x1="1007.7" y1="1104.2" x2="1015.4" y2="1106.5" stroke="#f8d52e" stroke-width="2.0" stroke-linecap="round" opacity="1.0"/><line x1="1019.1" y1="1107.5" x2="1027.8" y2="1108.6" stroke="#f8d52e" stroke-width="2.0" stroke-linecap="round" opacity="1.0"/><line x1="1031.3" y1="1105.0" x2="1040.0" y2="1106.8" stroke="#f8d52e" stroke-width="2.0" stroke-linecap="round" opacity="1.0"/><line x1="1043.5" y1="1106.6" x2="1049.8" y2="1107.7" stroke="#f8d52e" stroke-width="2.0" stroke-linecap="round" opacity="1.0"/><line x1="1054.1" y1="1108.1" x2="1063.4" y2="1107.0" stroke="#f8d52e" stroke-width="2.0" stroke-linecap="round" opacity="1.0"/><line x1="1070.2" y1="1109.0" x2="1076.7" y2="1108.7" stroke="#f8d52e" stroke-width="2.0" stroke-linecap="round" opacity="1.0"/><line x1="909.6" y1="1115.2" x2="913.6" y2="1120.2" stroke="#f8d52e" stroke-width="2.0" stroke-linecap="round" opacity="1.0"/><line x1="918.1" y1="1111.6" x2="924.1" y2="1118.6" stroke="#f8d52e" stroke-width="2.0" stroke-linecap="round" opacity="1.0"/><line x1="930.1" y1="1116.7" x2="934.0" y2="1120.9" stroke="#f8d52e" stroke-width="2.0" stroke-linecap="round" opacity="1.0"/><line x1="943.3" y1="1111.2" x2="948.9" y2="1117.2" stroke="#f8d52e" stroke-width="2.0" stroke-linecap="round" opacity="1.0"/><line x1="955.4" y1="1115.9" x2="960.5" y2="1120.8" stroke="#f8d52e" stroke-width="2.0" stroke-linecap="round" opacity="1.0"/><line x1="965.9" y1="1116.1" x2="971.9" y2="1119.5" stroke="#f8d52e" stroke-width="2.0" stroke-linecap="round" opacity="1.0"/><line x1="979.3" y1="1113.2" x2="984.9" y2="1116.2" stroke="#f8d52e" stroke-width="2.0" stroke-linecap="round" opacity="1.0"/><line x1="1003.9" y1="1117.4" x2="1010.7" y2="1119.1" stroke="#f8d52e" stroke-width="2.0" stroke-linecap="round" opacity="1.0"/><line x1="1016.8" y1="1115.2" x2="1022.3" y2="1116.2" stroke="#f8d52e" stroke-width="2.0" stroke-linecap="round" opacity="1.0"/><line x1="1041.1" y1="1114.7" x2="1047.1" y2="1115.8" stroke="#f8d52e" stroke-width="2.0" stroke-linecap="round" opacity="1.0"/><line x1="1049.6" y1="1118.2" x2="1058.7" y2="1117.3" stroke="#f8d52e" stroke-width="2.0" stroke-linecap="round" opacity="1.0"/><line x1="1061.6" y1="1116.4" x2="1070.6" y2="1115.3" stroke="#f8d52e" stroke-width="2.0" stroke-linecap="round" opacity="1.0"/><line x1="911.1" y1="1122.9" x2="914.9" y2="1128.5" stroke="#f8d52e" stroke-width="2.0" stroke-linecap="round" opacity="1.0"/><line x1="925.6" y1="1120.7" x2="929.5" y2="1126.0" stroke="#f8d52e" stroke-width="2.0" stroke-linecap="round" opacity="1.0"/><line x1="938.3" y1="1120.9" x2="942.7" y2="1125.9" stroke="#f8d52e" stroke-width="2.0" stroke-linecap="round" opacity="1.0"/><line x1="948.7" y1="1122.6" x2="953.6" y2="1126.7" stroke="#f8d52e" stroke-width="2.0" stroke-linecap="round" opacity="1.0"/><line x1="960.8" y1="1122.0" x2="965.1" y2="1125.6" stroke="#f8d52e" stroke-width="2.0" stroke-linecap="round" opacity="1.0"/><line x1="994.8" y1="1123.8" x2="1002.8" y2="1128.5" stroke="#f8d52e" stroke-width="2.0" stroke-linecap="round" opacity="1.0"/><line x1="1007.7" y1="1124.7" x2="1014.5" y2="1127.0" stroke="#f8d52e" stroke-width="2.0" stroke-linecap="round" opacity="1.0"/><line x1="1018.6" y1="1123.8" x2="1025.9" y2="1125.4" stroke="#f8d52e" stroke-width="2.0" stroke-linecap="round" opacity="1.0"/><line x1="1032.0" y1="1124.1" x2="1038.1" y2="1125.4" stroke="#f8d52e" stroke-width="2.0" stroke-linecap="round" opacity="1.0"/><line x1="1044.1" y1="1123.2" x2="1051.3" y2="1123.1" stroke="#f8d52e" stroke-width="2.0" stroke-linecap="round" opacity="1.0"/><line x1="1057.9" y1="1126.8" x2="1066.1" y2="1125.6" stroke="#f8d52e" stroke-width="2.0" stroke-linecap="round" opacity="1.0"/><line x1="1069.6" y1="1125.4" x2="1076.5" y2="1123.7" stroke="#f8d52e" stroke-width="2.0" stroke-linecap="round" opacity="1.0"/><line x1="919.4" y1="1130.2" x2="923.0" y2="1135.4" stroke="#f8d52e" stroke-width="2.0" stroke-linecap="round" opacity="1.0"/><line x1="931.6" y1="1133.0" x2="935.8" y2="1139.6" stroke="#f8d52e" stroke-width="2.0" stroke-linecap="round" opacity="1.0"/><line x1="944.3" y1="1132.1" x2="949.3" y2="1137.2" stroke="#f8d52e" stroke-width="2.0" stroke-linecap="round" opacity="1.0"/><line x1="953.7" y1="1133.0" x2="958.4" y2="1138.3" stroke="#f8d52e" stroke-width="2.0" stroke-linecap="round" opacity="1.0"/><line x1="964.1" y1="1130.2" x2="969.5" y2="1134.2" stroke="#f8d52e" stroke-width="2.0" stroke-linecap="round" opacity="1.0"/><line x1="982.0" y1="1130.5" x2="987.3" y2="1134.0" stroke="#f8d52e" stroke-width="2.0" stroke-linecap="round" opacity="1.0"/><line x1="989.2" y1="1130.0" x2="995.6" y2="1133.0" stroke="#f8d52e" stroke-width="2.0" stroke-linecap="round" opacity="1.0"/><line x1="1002.5" y1="1133.1" x2="1009.8" y2="1136.4" stroke="#f8d52e" stroke-width="2.0" stroke-linecap="round" opacity="1.0"/><line x1="1017.2" y1="1135.0" x2="1023.6" y2="1137.7" stroke="#f8d52e" stroke-width="2.0" stroke-linecap="round" opacity="1.0"/><line x1="1025.6" y1="1133.7" x2="1033.4" y2="1136.5" stroke="#f8d52e" stroke-width="2.0" stroke-linecap="round" opacity="1.0"/><line x1="1041.0" y1="1131.8" x2="1048.4" y2="1132.8" stroke="#f8d52e" stroke-width="2.0" stroke-linecap="round" opacity="1.0"/><line x1="1050.4" y1="1133.0" x2="1058.0" y2="1132.9" stroke="#f8d52e" stroke-width="2.0" stroke-linecap="round" opacity="1.0"/><line x1="1062.0" y1="1133.6" x2="1069.4" y2="1132.6" stroke="#f8d52e" stroke-width="2.0" stroke-linecap="round" opacity="1.0"/><line x1="914.8" y1="1138.6" x2="918.6" y2="1146.8" stroke="#f8d52e" stroke-width="2.0" stroke-linecap="round" opacity="1.0"/><line x1="922.1" y1="1138.0" x2="927.1" y2="1145.1" stroke="#f8d52e" stroke-width="2.0" stroke-linecap="round" opacity="1.0"/><line x1="938.5" y1="1139.0" x2="943.1" y2="1144.1" stroke="#f8d52e" stroke-width="2.0" stroke-linecap="round" opacity="1.0"/><line x1="950.5" y1="1141.8" x2="956.0" y2="1147.3" stroke="#f8d52e" stroke-width="2.0" stroke-linecap="round" opacity="1.0"/><line x1="961.6" y1="1140.9" x2="968.7" y2="1146.0" stroke="#f8d52e" stroke-width="2.0" stroke-linecap="round" opacity="1.0"/><line x1="972.7" y1="1142.1" x2="978.1" y2="1145.2" stroke="#f8d52e" stroke-width="2.0" stroke-linecap="round" opacity="1.0"/><line x1="994.7" y1="1141.9" x2="1001.9" y2="1145.5" stroke="#f8d52e" stroke-width="2.0" stroke-linecap="round" opacity="1.0"/><line x1="1011.3" y1="1144.1" x2="1019.3" y2="1146.4" stroke="#f8d52e" stroke-width="2.0" stroke-linecap="round" opacity="1.0"/><line x1="1017.5" y1="1140.7" x2="1026.8" y2="1142.7" stroke="#f8d52e" stroke-width="2.0" stroke-linecap="round" opacity="1.0"/><line x1="1032.4" y1="1139.8" x2="1039.7" y2="1141.1" stroke="#f8d52e" stroke-width="2.0" stroke-linecap="round" opacity="1.0"/><line x1="1044.9" y1="1144.0" x2="1051.5" y2="1144.6" stroke="#f8d52e" stroke-width="2.0" stroke-linecap="round" opacity="1.0"/><line x1="1068.8" y1="1144.6" x2="1077.3" y2="1143.0" stroke="#f8d52e" stroke-width="2.0" stroke-linecap="round" opacity="1.0"/><line x1="919.4" y1="1147.1" x2="923.0" y2="1152.6" stroke="#f8d52e" stroke-width="2.0" stroke-linecap="round" opacity="1.0"/><line x1="931.0" y1="1148.8" x2="934.7" y2="1153.1" stroke="#f8d52e" stroke-width="2.0" stroke-linecap="round" opacity="1.0"/><line x1="945.5" y1="1148.3" x2="949.6" y2="1153.0" stroke="#f8d52e" stroke-width="2.0" stroke-linecap="round" opacity="1.0"/><line x1="957.7" y1="1147.6" x2="963.1" y2="1152.7" stroke="#f8d52e" stroke-width="2.0" stroke-linecap="round" opacity="1.0"/><line x1="968.6" y1="1148.5" x2="974.3" y2="1153.7" stroke="#f8d52e" stroke-width="2.0" stroke-linecap="round" opacity="1.0"/><line x1="992.5" y1="1151.6" x2="999.9" y2="1156.5" stroke="#f8d52e" stroke-width="2.0" stroke-linecap="round" opacity="1.0"/><line x1="1001.5" y1="1148.2" x2="1007.1" y2="1150.3" stroke="#f8d52e" stroke-width="2.0" stroke-linecap="round" opacity="1.0"/><line x1="1013.9" y1="1151.9" x2="1021.2" y2="1153.8" stroke="#f8d52e" stroke-width="2.0" stroke-linecap="round" opacity="1.0"/><line x1="1025.3" y1="1152.5" x2="1032.4" y2="1155.3" stroke="#f8d52e" stroke-width="2.0" stroke-linecap="round" opacity="1.0"/><line x1="1040.3" y1="1151.7" x2="1048.8" y2="1153.8" stroke="#f8d52e" stroke-width="2.0" stroke-linecap="round" opacity="1.0"/><line x1="1052.0" y1="1153.8" x2="1061.3" y2="1154.2" stroke="#f8d52e" stroke-width="2.0" stroke-linecap="round" opacity="1.0"/><line x1="925.7" y1="1155.8" x2="930.6" y2="1163.5" stroke="#f8d52e" stroke-width="2.0" stroke-linecap="round" opacity="1.0"/><line x1="935.5" y1="1156.8" x2="938.7" y2="1162.3" stroke="#f8d52e" stroke-width="2.0" stroke-linecap="round" opacity="1.0"/><line x1="949.9" y1="1159.2" x2="954.1" y2="1163.4" stroke="#f8d52e" stroke-width="2.0" stroke-linecap="round" opacity="1.0"/><line x1="960.3" y1="1157.4" x2="965.7" y2="1162.7" stroke="#f8d52e" stroke-width="2.0" stroke-linecap="round" opacity="1.0"/><line x1="982.9" y1="1160.1" x2="990.2" y2="1164.5" stroke="#f8d52e" stroke-width="2.0" stroke-linecap="round" opacity="1.0"/><line x1="1008.1" y1="1158.8" x2="1013.9" y2="1161.1" stroke="#f8d52e" stroke-width="2.0" stroke-linecap="round" opacity="1.0"/><line x1="1023.0" y1="1161.7" x2="1028.9" y2="1163.6" stroke="#f8d52e" stroke-width="2.0" stroke-linecap="round" opacity="1.0"/><line x1="1036.6" y1="1157.8" x2="1043.4" y2="1159.5" stroke="#f8d52e" stroke-width="2.0" stroke-linecap="round" opacity="1.0"/><line x1="1043.2" y1="1160.2" x2="1052.0" y2="1161.8" stroke="#f8d52e" stroke-width="2.0" stroke-linecap="round" opacity="1.0"/><line x1="1057.1" y1="1160.4" x2="1065.9" y2="1161.1" stroke="#f8d52e" stroke-width="2.0" stroke-linecap="round" opacity="1.0"/><line x1="1069.9" y1="1161.7" x2="1076.9" y2="1160.7" stroke="#f8d52e" stroke-width="2.0" stroke-linecap="round" opacity="1.0"/><line x1="931.3" y1="1168.6" x2="934.3" y2="1174.7" stroke="#f8d52e" stroke-width="2.0" stroke-linecap="round" opacity="1.0"/><line x1="946.7" y1="1166.1" x2="949.6" y2="1171.3" stroke="#f8d52e" stroke-width="2.0" stroke-linecap="round" opacity="1.0"/><line x1="955.1" y1="1164.5" x2="959.6" y2="1171.2" stroke="#f8d52e" stroke-width="2.0" stroke-linecap="round" opacity="1.0"/><line x1="967.9" y1="1167.8" x2="975.3" y2="1173.6" stroke="#f8d52e" stroke-width="2.0" stroke-linecap="round" opacity="1.0"/><line x1="980.6" y1="1167.6" x2="987.5" y2="1173.0" stroke="#f8d52e" stroke-width="2.0" stroke-linecap="round" opacity="1.0"/><line x1="991.6" y1="1169.1" x2="996.9" y2="1173.0" stroke="#f8d52e" stroke-width="2.0" stroke-linecap="round" opacity="1.0"/><line x1="1000.3" y1="1167.8" x2="1007.0" y2="1171.1" stroke="#f8d52e" stroke-width="2.0" stroke-linecap="round" opacity="1.0"/><line x1="1016.8" y1="1169.1" x2="1023.6" y2="1172.8" stroke="#f8d52e" stroke-width="2.0" stroke-linecap="round" opacity="1.0"/><line x1="1029.5" y1="1166.9" x2="1035.3" y2="1168.0" stroke="#f8d52e" stroke-width="2.0" stroke-linecap="round" opacity="1.0"/><line x1="1038.9" y1="1170.6" x2="1044.8" y2="1171.5" stroke="#f8d52e" stroke-width="2.0" stroke-linecap="round" opacity="1.0"/><line x1="1049.8" y1="1170.9" x2="1058.9" y2="1171.0" stroke="#f8d52e" stroke-width="2.0" stroke-linecap="round" opacity="1.0"/><line x1="1065.6" y1="1167.7" x2="1074.6" y2="1167.8" stroke="#f8d52e" stroke-width="2.0" stroke-linecap="round" opacity="1.0"/><line x1="935.5" y1="1173.1" x2="939.7" y2="1179.1" stroke="#f8d52e" stroke-width="2.0" stroke-linecap="round" opacity="1.0"/><line x1="947.2" y1="1177.5" x2="951.5" y2="1182.9" stroke="#f8d52e" stroke-width="2.0" stroke-linecap="round" opacity="1.0"/><line x1="964.4" y1="1176.5" x2="969.3" y2="1181.4" stroke="#f8d52e" stroke-width="2.0" stroke-linecap="round" opacity="1.0"/><line x1="973.1" y1="1173.5" x2="978.0" y2="1178.9" stroke="#f8d52e" stroke-width="2.0" stroke-linecap="round" opacity="1.0"/><line x1="984.0" y1="1175.0" x2="991.5" y2="1180.5" stroke="#f8d52e" stroke-width="2.0" stroke-linecap="round" opacity="1.0"/><line x1="999.1" y1="1174.7" x2="1004.4" y2="1178.7" stroke="#f8d52e" stroke-width="2.0" stroke-linecap="round" opacity="1.0"/><line x1="1008.4" y1="1177.7" x2="1014.4" y2="1181.8" stroke="#f8d52e" stroke-width="2.0" stroke-linecap="round" opacity="1.0"/><line x1="1020.7" y1="1178.2" x2="1027.7" y2="1180.2" stroke="#f8d52e" stroke-width="2.0" stroke-linecap="round" opacity="1.0"/><line x1="1032.1" y1="1175.8" x2="1041.2" y2="1178.0" stroke="#f8d52e" stroke-width="2.0" stroke-linecap="round" opacity="1.0"/><line x1="1046.9" y1="1178.6" x2="1054.0" y2="1179.1" stroke="#f8d52e" stroke-width="2.0" stroke-linecap="round" opacity="1.0"/><line x1="1060.5" y1="1176.4" x2="1067.3" y2="1177.2" stroke="#f8d52e" stroke-width="2.0" stroke-linecap="round" opacity="1.0"/><line x1="944.0" y1="1183.6" x2="948.0" y2="1189.7" stroke="#f8d52e" stroke-width="2.0" stroke-linecap="round" opacity="1.0"/><line x1="969.6" y1="1185.9" x2="975.3" y2="1192.6" stroke="#f8d52e" stroke-width="2.0" stroke-linecap="round" opacity="1.0"/><line x1="980.3" y1="1186.9" x2="985.8" y2="1191.7" stroke="#f8d52e" stroke-width="2.0" stroke-linecap="round" opacity="1.0"/><line x1="1001.6" y1="1184.1" x2="1007.3" y2="1188.2" stroke="#f8d52e" stroke-width="2.0" stroke-linecap="round" opacity="1.0"/><line x1="1012.5" y1="1183.1" x2="1019.3" y2="1187.2" stroke="#f8d52e" stroke-width="2.0" stroke-linecap="round" opacity="1.0"/><line x1="948.0" y1="1190.6" x2="951.0" y2="1196.5" stroke="#f8d52e" stroke-width="2.0" stroke-linecap="round" opacity="1.0"/><line x1="960.5" y1="1192.6" x2="964.3" y2="1197.7" stroke="#f8d52e" stroke-width="2.0" stroke-linecap="round" opacity="1.0"/><line x1="974.6" y1="1193.1" x2="978.3" y2="1197.7" stroke="#f8d52e" stroke-width="2.0" stroke-linecap="round" opacity="1.0"/><line x1="983.7" y1="1195.4" x2="988.8" y2="1200.5" stroke="#f8d52e" stroke-width="2.0" stroke-linecap="round" opacity="1.0"/><line x1="1000.3" y1="1196.5" x2="1005.1" y2="1199.3" stroke="#f8d52e" stroke-width="2.0" stroke-linecap="round" opacity="1.0"/><line x1="945.4" y1="1200.3" x2="949.8" y2="1207.5" stroke="#f8d52e" stroke-width="2.0" stroke-linecap="round" opacity="1.0"/><line x1="954.7" y1="1201.1" x2="958.5" y2="1207.0" stroke="#f8d52e" stroke-width="2.0" stroke-linecap="round" opacity="1.0"/><line x1="967.5" y1="1199.9" x2="971.1" y2="1204.4" stroke="#f8d52e" stroke-width="2.0" stroke-linecap="round" opacity="1.0"/><line x1="980.0" y1="1201.8" x2="984.2" y2="1206.0" stroke="#f8d52e" stroke-width="2.0" stroke-linecap="round" opacity="1.0"/><line x1="989.7" y1="1201.5" x2="996.1" y2="1207.1" stroke="#f8d52e" stroke-width="2.0" stroke-linecap="round" opacity="1.0"/><line x1="959.5" y1="1212.8" x2="963.3" y2="1218.4" stroke="#f8d52e" stroke-width="2.0" stroke-linecap="round" opacity="1.0"/></g>
<line x1="423.5" y1="963.9" x2="423.5" y2="1065.3" stroke="#1b2052" stroke-width="1.4"/>
<circle cx="423.5" cy="963.9" r="2.0" fill="#fff" stroke="#1b2052" stroke-width="1.2"/>
<circle cx="285" cy="1036" r="28" fill="#fffffa"/>
<path d="M268.3,1030.5 L273.9,1032.9 L279.4,1034.5 L279.9,1031.1 L282.6,1029.8 L285.2,1031.1 L285.7,1033.7 L289.9,1031.1 L292.3,1026.3 L293.4,1022.1 L295.3,1027.3 L294.7,1032.1 L291.6,1035.8 L297.9,1039.6 L302.2,1042.7 L302.4,1046.4 L298.9,1044.8 L291.0,1045.4 L289.9,1048.0 L287.3,1052.3 L279.9,1057.6 L279.4,1055.4 L282.0,1050.1 L280.4,1047.0 L274.1,1043.3 L269.9,1038.5 L268.3,1033.7Z" fill="#fff" stroke="#f2de48" stroke-width="1.3" stroke-linejoin="round"/>
<path d="M272.5,1011.5 L278.5,1024.5 M281.5,1013.5 L283,1024.5" stroke="#000a3c" stroke-width="1.3" stroke-linecap="round"/>
<circle cx="278.8" cy="1026.8" r="0.9" fill="#000a3c"/><circle cx="283.2" cy="1026.8" r="0.9" fill="#000a3c"/>
<path d="M315,1019 L423.5,1019 L423.5,1047.3 L315,1047.3 Q321,1033.15 315,1019 Z" fill="#000a3c"/>
<text x="327.0" y="1040.0" font-family="Liberation Serif" font-size="16.5" font-weight="bold" font-style="normal" fill="#fffdf2" text-anchor="start" textLength="86.3" lengthAdjust="spacingAndGlyphs">RÉPONSES</text>
<path d="M229,1099 L169.6,1099 Q146.6,1099 146.6,1122 L146.6,1234.5 Q146.6,1257.5 169.6,1257.5 L995.5,1257.5 Q1019.5,1257.5 1019.5,1233.5 L1019.5,1090 Q1019.5,1066 995.5,1066 L423.5,1066" fill="none" stroke="#1b2052" stroke-width="1.4"/>
<circle cx="423.5" cy="1065.3" r="2.0" fill="#fff" stroke="#1b2052" stroke-width="1.2"/>
<path d="M423.5,1257.5 L423.5,1397.3 Q423.5,1422.3 448.5,1422.3 L757.4,1422.3" fill="none" stroke="#1b2052" stroke-width="1.4"/>
<circle cx="423.5" cy="1257.5" r="2.0" fill="#fff" stroke="#1b2052" stroke-width="1.2"/>
<text x="768.2" y="1428.0" font-family="Liberation Serif" font-size="12.5" font-weight="normal" font-style="italic" fill="#0e1342" text-anchor="start" textLength="217.0" lengthAdjust="spacingAndGlyphs" stroke="#0e1342" stroke-width="0.3">Sa mise en œuvre, son bilan &amp; son analyse</text>
<path d="M996,1423 L1020,1423 M1014,1417.5 L1020,1423 L1014,1428.5" fill="none" stroke="#1b2052" stroke-width="1.4" stroke-linecap="round" stroke-linejoin="round"/>
<g><line x1="214.7" y1="1083.9" x2="219.3" y2="1087.1" stroke="#f5df6a" stroke-width="1.6" stroke-linecap="round" opacity="0.9"/><line x1="222.1" y1="1082.1" x2="225.9" y2="1085.9" stroke="#f5df6a" stroke-width="1.6" stroke-linecap="round" opacity="0.9"/><line x1="229.0" y1="1078.6" x2="231.8" y2="1082.6" stroke="#f5df6a" stroke-width="1.6" stroke-linecap="round" opacity="0.9"/><line x1="235.1" y1="1084.1" x2="238.3" y2="1089.9" stroke="#f5df6a" stroke-width="1.6" stroke-linecap="round" opacity="0.9"/><line x1="211.2" y1="1090.6" x2="215.6" y2="1091.8" stroke="#f5df6a" stroke-width="1.6" stroke-linecap="round" opacity="0.9"/><line x1="218.5" y1="1090.2" x2="223.9" y2="1092.2" stroke="#f5df6a" stroke-width="1.6" stroke-linecap="round" opacity="0.9"/><line x1="205.1" y1="1094.6" x2="211.9" y2="1094.8" stroke="#f5df6a" stroke-width="1.6" stroke-linecap="round" opacity="0.9"/><line x1="213.2" y1="1095.8" x2="217.8" y2="1096.2" stroke="#f5df6a" stroke-width="1.6" stroke-linecap="round" opacity="0.9"/><line x1="218.3" y1="1103.8" x2="224.1" y2="1102.6" stroke="#f5df6a" stroke-width="1.6" stroke-linecap="round" opacity="0.9"/><line x1="210.4" y1="1104.5" x2="216.4" y2="1103.5" stroke="#f5df6a" stroke-width="1.6" stroke-linecap="round" opacity="0.9"/><line x1="224.1" y1="1114.3" x2="226.7" y2="1110.5" stroke="#f5df6a" stroke-width="1.6" stroke-linecap="round" opacity="0.9"/><line x1="231.6" y1="1114.3" x2="233.4" y2="1109.1" stroke="#f5df6a" stroke-width="1.6" stroke-linecap="round" opacity="0.9"/><line x1="235.9" y1="1116.0" x2="237.5" y2="1110.0" stroke="#f5df6a" stroke-width="1.6" stroke-linecap="round" opacity="0.9"/><line x1="240.6" y1="1113.8" x2="241.4" y2="1119.4" stroke="#f5df6a" stroke-width="1.6" stroke-linecap="round" opacity="0.9"/><line x1="215.7" y1="1109.6" x2="221.1" y2="1106.4" stroke="#f5df6a" stroke-width="1.6" stroke-linecap="round" opacity="0.9"/><line x1="226.3" y1="1086.8" x2="230.1" y2="1090.0" stroke="#f5df6a" stroke-width="1.6" stroke-linecap="round" opacity="0.9"/><line x1="208.5" y1="1099.5" x2="213.5" y2="1099.5" stroke="#f5df6a" stroke-width="1.6" stroke-linecap="round" opacity="0.9"/><line x1="223.6" y1="1097.6" x2="228.4" y2="1098.4" stroke="#f5df6a" stroke-width="1.6" stroke-linecap="round" opacity="0.9"/><line x1="335.3" y1="1083.3" x2="337.3" y2="1077.9" stroke="#f5df6a" stroke-width="1.6" stroke-linecap="round" opacity="0.9"/><line x1="341.0" y1="1086.9" x2="344.4" y2="1081.1" stroke="#f5df6a" stroke-width="1.6" stroke-linecap="round" opacity="0.9"/><line x1="338.5" y1="1092.5" x2="343.9" y2="1089.9" stroke="#f5df6a" stroke-width="1.6" stroke-linecap="round" opacity="0.9"/><line x1="332.5" y1="1096.4" x2="338.7" y2="1094.4" stroke="#f5df6a" stroke-width="1.6" stroke-linecap="round" opacity="0.9"/><line x1="341.3" y1="1096.6" x2="346.7" y2="1095.4" stroke="#f5df6a" stroke-width="1.6" stroke-linecap="round" opacity="0.9"/><line x1="334.5" y1="1102.8" x2="340.9" y2="1103.6" stroke="#f5df6a" stroke-width="1.6" stroke-linecap="round" opacity="0.9"/><line x1="331.1" y1="1088.7" x2="334.5" y2="1085.3" stroke="#f5df6a" stroke-width="1.6" stroke-linecap="round" opacity="0.9"/><line x1="343.0" y1="1089.7" x2="347.0" y2="1086.3" stroke="#f5df6a" stroke-width="1.6" stroke-linecap="round" opacity="0.9"/></g>
<text x="283.8" y="1103.9" font-family="Liberation Sans" font-size="13.5" font-weight="bold" font-style="normal" fill="#000a3c" text-anchor="middle" textLength="90.8" lengthAdjust="spacingAndGlyphs">Un dispositif</text>
<text x="283.6" y="1123.7" font-family="Liberation Sans" font-size="13.5" font-weight="bold" font-style="normal" fill="#000a3c" text-anchor="middle" textLength="75.3" lengthAdjust="spacingAndGlyphs">adhérents</text>
<text x="283.8" y="1143.4" font-family="Liberation Sans" font-size="13.5" font-weight="bold" font-style="normal" fill="#000a3c" text-anchor="middle">V</text>
<text x="283.8" y="1163.2" font-family="Liberation Sans" font-size="13.5" font-weight="bold" font-style="normal" fill="#000a3c" text-anchor="middle" textLength="85.0" lengthAdjust="spacingAndGlyphs">encadrants</text>
<text x="424.7" y="1103.5" font-family="Liberation Sans" font-size="13.5" font-weight="normal" font-style="normal" fill="#fe7e22" text-anchor="start" textLength="371.0" lengthAdjust="spacingAndGlyphs" stroke="#fe7e22" stroke-width="0.5">Pour permettre aux adhérents (usagers du service)</text>
<text x="424.7" y="1123.5" font-family="Liberation Sans" font-size="13.5" font-weight="normal" font-style="normal" fill="#fe7e22" text-anchor="start" textLength="350.0" lengthAdjust="spacingAndGlyphs" stroke="#fe7e22" stroke-width="0.5">de devenir encadrants (animateurs du service).</text>
<text x="424.7" y="1142.4" font-family="Liberation Sans" font-size="14" font-weight="bold" font-style="normal" fill="#fe7e22" text-anchor="start" textLength="3.8" lengthAdjust="spacingAndGlyphs">-</text>
<text x="432.7" y="1142.4" font-family="Liberation Sans" font-size="14" font-weight="bold" font-style="normal" fill="#000a3c" text-anchor="start" textLength="141.2" lengthAdjust="spacingAndGlyphs" stroke="#000a3c" stroke-width="0.25">une formation spécifique</text>
<text x="577.0" y="1142.4" font-family="Liberation Sans" font-size="14" font-weight="normal" font-style="normal" fill="#0e1342" text-anchor="start" textLength="23.8" lengthAdjust="spacingAndGlyphs" stroke="#0e1342" stroke-width="0.22">sur :</text>
<text x="434.6" y="1163.0" font-family="Liberation Sans" font-size="11" font-weight="normal" font-style="normal" fill="#fe7e22" text-anchor="start" textLength="3.8" lengthAdjust="spacingAndGlyphs" stroke="#fe7e22" stroke-width="0.4">/</text>
<text x="441.5" y="1163.0" font-family="Liberation Sans" font-size="14" font-weight="bold" font-style="normal" fill="#000a3c" text-anchor="start" textLength="150.8" lengthAdjust="spacingAndGlyphs" stroke="#000a3c" stroke-width="0.25">l'encadrement d'un atelier</text>
<text x="594.4" y="1163.0" font-family="Liberation Sans" font-size="14" font-weight="normal" font-style="normal" fill="#0e1342" text-anchor="start" textLength="226.4" lengthAdjust="spacingAndGlyphs" stroke="#0e1342" stroke-width="0.22">et la sécurité lors de l'usage des machines</text>
<text x="434.6" y="1182.0" font-family="Liberation Sans" font-size="11" font-weight="normal" font-style="normal" fill="#fe7e22" text-anchor="start" textLength="3.8" lengthAdjust="spacingAndGlyphs" stroke="#fe7e22" stroke-width="0.4">/</text>
<text x="441.5" y="1182.0" font-family="Liberation Sans" font-size="14" font-weight="bold" font-style="normal" fill="#000a3c" text-anchor="start" textLength="178.1" lengthAdjust="spacingAndGlyphs" stroke="#000a3c" stroke-width="0.25">la présentation de l'association</text>
<text x="621.4" y="1182.0" font-family="Liberation Sans" font-size="14" font-weight="normal" font-style="normal" fill="#0e1342" text-anchor="start" textLength="179.0" lengthAdjust="spacingAndGlyphs" stroke="#0e1342" stroke-width="0.22">, de ses activités et de ses valeurs</text>
<text x="424.7" y="1201.5" font-family="Liberation Sans" font-size="14" font-weight="bold" font-style="normal" fill="#fe7e22" text-anchor="start" textLength="3.8" lengthAdjust="spacingAndGlyphs">-</text>
<text x="432.7" y="1201.5" font-family="Liberation Sans" font-size="14" font-weight="bold" font-style="normal" fill="#000a3c" text-anchor="start" textLength="123.5" lengthAdjust="spacingAndGlyphs" stroke="#000a3c" stroke-width="0.25">un système de tutorat</text>
<text x="559.4" y="1201.5" font-family="Liberation Sans" font-size="14" font-weight="normal" font-style="normal" fill="#0e1342" text-anchor="start" textLength="287.9" lengthAdjust="spacingAndGlyphs" stroke="#0e1342" stroke-width="0.22">permettant aux adhérents formés de former à leur tour</text>
<text x="424.7" y="1221.3" font-family="Liberation Sans" font-size="14" font-weight="bold" font-style="normal" fill="#fe7e22" text-anchor="start" textLength="3.8" lengthAdjust="spacingAndGlyphs">-</text>
<text x="432.7" y="1221.3" font-family="Liberation Sans" font-size="14" font-weight="bold" font-style="normal" fill="#000a3c" text-anchor="start" textLength="208.1" lengthAdjust="spacingAndGlyphs" stroke="#000a3c" stroke-width="0.25">un groupe des encadrants bénévoles</text>
<text x="644.2" y="1221.3" font-family="Liberation Sans" font-size="14" font-weight="normal" font-style="normal" fill="#0e1342" text-anchor="start" textLength="205.8" lengthAdjust="spacingAndGlyphs" stroke="#0e1342" stroke-width="0.22">pour permettre une pratique commune</text>
</svg>
</body></html>
